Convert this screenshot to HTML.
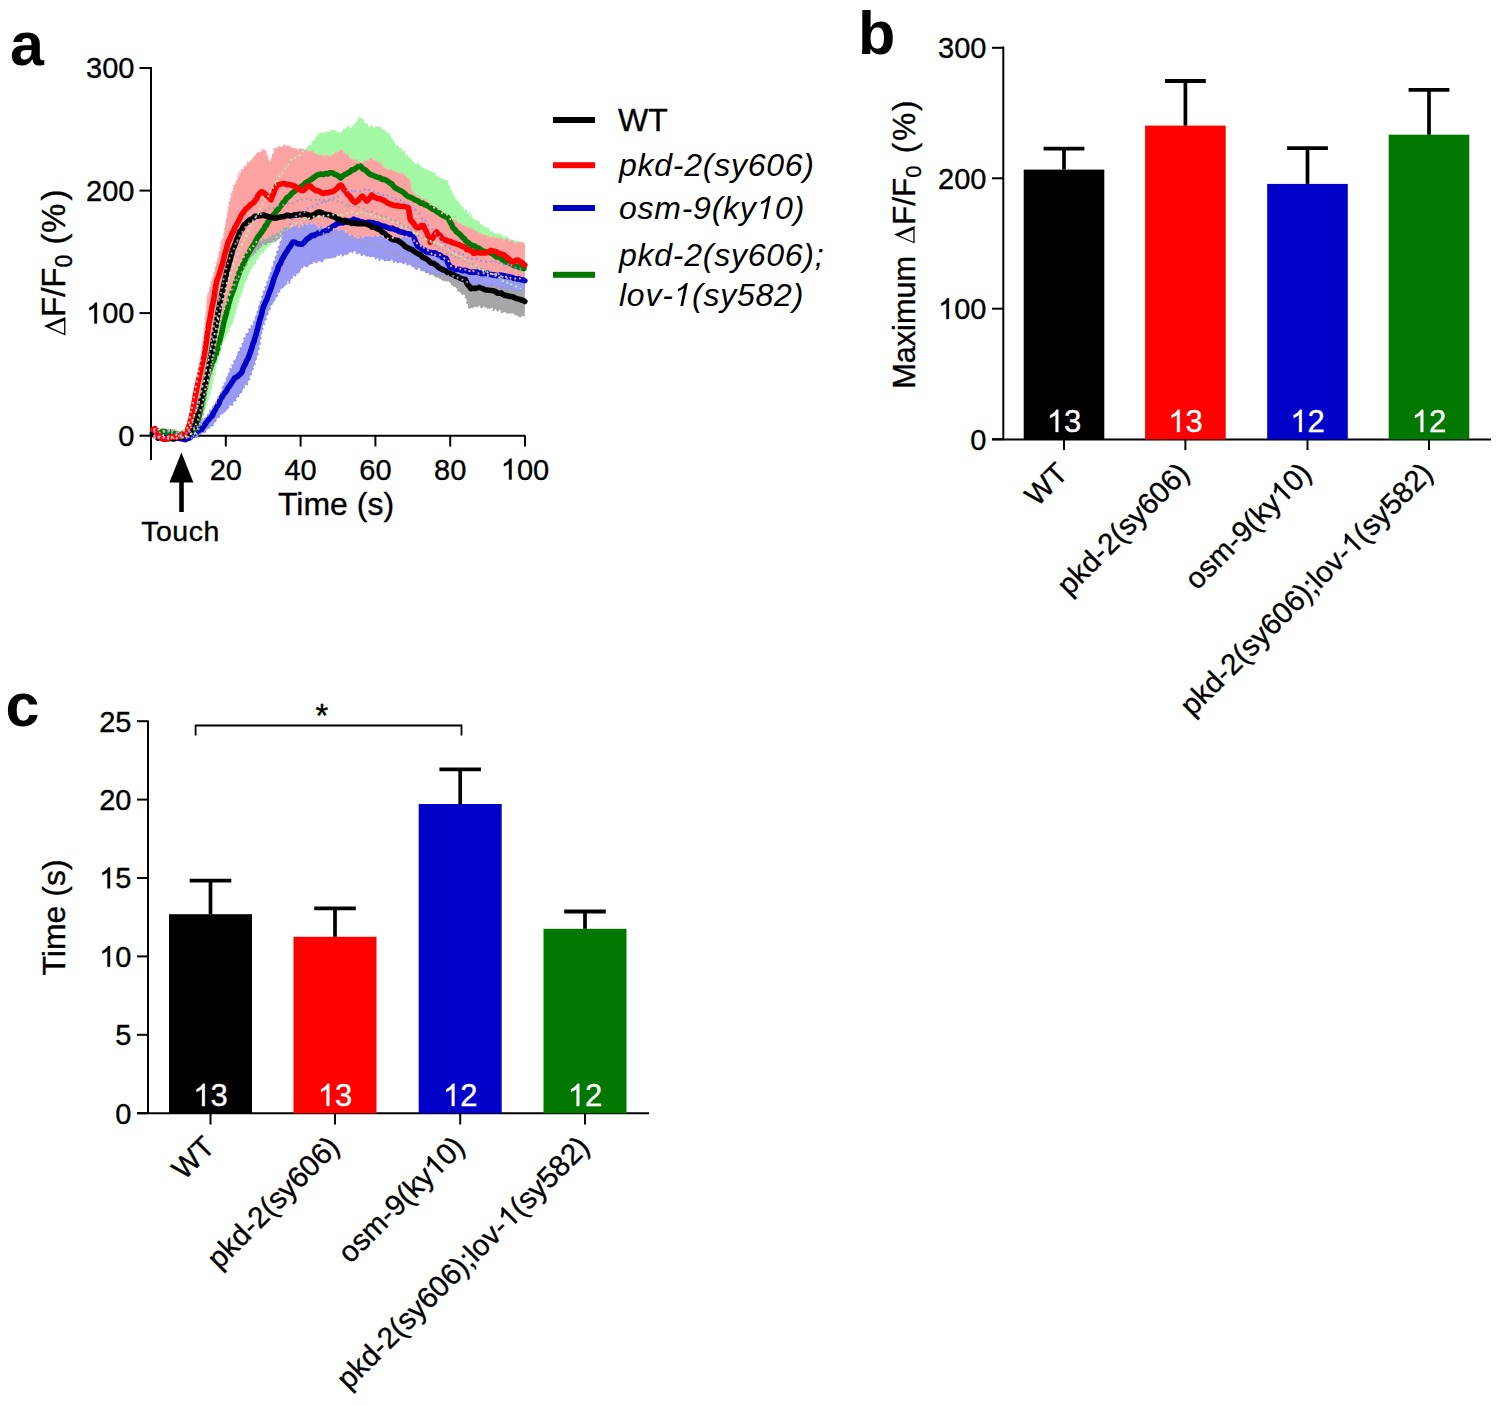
<!DOCTYPE html><html><head><meta charset="utf-8"><style>html,body{margin:0;padding:0;background:#fff;}svg{display:block;}text{font-family:"Liberation Sans",sans-serif;stroke:#000;stroke-width:0.35px;}text[fill="#fff"]{stroke:#fff;}text[font-weight="bold"],text[font-style="italic"]{stroke:none;}</style></head><body>
<svg width="1500" height="1406" viewBox="0 0 1500 1406">
<rect width="1500" height="1406" fill="#fff"/>
<text x="10" y="64.5" font-size="61" font-weight="bold">a</text>
<text x="858" y="53.5" font-size="61" font-weight="bold">b</text>
<text x="5.5" y="726" font-size="61" font-weight="bold">c</text>
<g stroke="#000" stroke-width="2" fill="none">
<line x1="151" y1="67" x2="151" y2="460"/>
<line x1="139.5" y1="435.7" x2="151" y2="435.7"/>
<line x1="139.5" y1="313.1" x2="151" y2="313.1"/>
<line x1="139.5" y1="190.6" x2="151" y2="190.6"/>
<line x1="139.5" y1="68.0" x2="151" y2="68.0"/>
<line x1="150" y1="435.7" x2="525.5" y2="435.7"/>
<line x1="225.8" y1="435.7" x2="225.8" y2="446.5"/>
<line x1="300.6" y1="435.7" x2="300.6" y2="446.5"/>
<line x1="375.4" y1="435.7" x2="375.4" y2="446.5"/>
<line x1="450.2" y1="435.7" x2="450.2" y2="446.5"/>
<line x1="525.0" y1="435.7" x2="525.0" y2="446.5"/>
</g>
<g>
<polygon points="152.0,430.0 153.6,429.0 155.3,431.1 156.9,430.9 158.5,429.5 160.2,430.2 161.8,430.1 163.5,430.7 165.1,431.2 166.7,429.3 168.4,429.1 170.0,431.4 171.6,430.4 173.3,431.3 174.9,429.2 176.5,430.5 178.2,431.3 179.8,430.0 181.5,432.1 183.1,432.0 184.7,429.6 186.4,429.6 188.0,431.1 188.7,430.6 189.3,427.5 190.0,425.5 190.7,424.4 191.3,421.8 192.0,420.7 192.7,419.7 193.3,418.3 194.0,416.0 194.7,414.4 195.3,412.8 196.0,411.9 196.4,409.8 196.8,407.5 197.2,408.1 197.6,405.8 198.0,404.4 198.4,401.5 198.8,402.2 199.2,400.2 199.6,396.5 200.0,395.5 200.4,395.0 200.8,393.4 201.2,392.4 201.6,389.4 202.0,388.9 202.4,386.9 202.8,384.2 203.2,383.4 203.6,382.7 204.0,381.0 204.4,378.4 204.7,377.1 205.1,373.9 205.5,372.9 205.8,372.9 206.2,370.2 206.5,367.9 206.9,367.4 207.3,366.3 207.6,364.6 208.0,362.1 208.4,360.7 208.7,359.3 209.1,358.5 209.5,356.2 209.8,354.2 210.2,352.9 210.5,350.0 210.9,348.5 211.3,348.8 211.6,347.9 212.0,345.3 212.4,343.1 212.7,340.9 213.1,340.2 213.5,340.0 213.8,337.8 214.2,335.6 214.5,334.9 214.9,331.5 215.3,330.7 215.6,330.4 216.0,327.7 216.4,325.8 216.7,323.7 217.1,322.9 217.5,322.4 217.8,318.2 218.2,318.7 218.5,317.3 218.9,315.9 219.3,313.9 219.6,312.5 220.0,310.1 220.4,308.6 220.8,306.6 221.3,304.0 221.7,304.7 222.1,302.3 222.5,299.7 222.9,299.0 223.4,297.3 223.8,295.4 224.2,293.8 224.6,292.7 225.1,291.4 225.5,289.8 225.9,287.8 226.3,285.0 226.7,284.0 227.2,282.3 227.6,281.8 228.0,281.0 228.6,279.3 229.1,277.7 229.7,276.2 230.3,273.0 230.9,273.1 231.4,271.1 232.0,267.8 232.6,266.1 233.1,264.5 233.7,265.0 234.3,262.0 234.9,260.0 235.4,259.9 236.0,257.6 236.7,255.3 237.4,254.0 238.1,253.5 238.8,250.9 239.5,249.7 240.2,249.4 240.8,247.1 241.5,245.2 242.2,244.1 242.9,241.3 243.6,240.8 244.3,239.3 245.0,237.1 245.8,235.4 246.5,236.0 247.3,233.4 248.1,231.0 248.8,230.6 249.6,229.7 250.4,225.9 251.2,224.3 251.9,223.2 252.7,223.2 253.5,220.1 254.2,220.1 255.0,218.5 255.9,216.7 256.7,214.3 257.6,214.9 258.5,213.0 259.3,210.7 260.2,208.4 261.1,208.1 261.9,206.0 262.8,205.0 263.7,202.8 264.5,202.2 265.4,199.2 266.3,198.4 267.1,198.8 268.0,197.1 268.9,194.0 269.7,194.1 270.6,191.2 271.4,191.5 272.3,189.5 273.1,187.2 274.0,185.3 274.9,183.2 275.7,184.2 276.6,180.4 277.4,181.2 278.3,180.2 279.1,177.6 280.0,175.1 281.0,175.7 282.0,174.6 283.0,172.5 284.0,170.6 285.0,168.8 286.0,167.4 287.0,165.6 288.0,165.6 289.0,163.5 290.0,161.5 291.0,159.9 292.4,160.4 293.8,158.3 295.2,157.8 296.6,156.3 297.9,156.8 299.3,155.8 300.7,152.3 302.1,151.8 303.5,151.1 304.9,151.9 305.9,150.0 307.0,147.6 308.0,146.0 309.1,146.0 310.1,145.2 311.1,144.2 312.2,141.3 313.2,141.6 314.2,139.8 315.3,138.0 316.3,138.2 317.4,134.8 318.4,134.9 320.1,132.6 321.8,132.4 323.5,134.0 325.1,131.5 326.8,132.5 328.5,131.6 330.2,131.8 331.9,129.9 333.5,130.2 335.1,130.4 336.8,132.3 338.4,132.0 340.0,133.3 341.5,132.3 343.0,129.5 344.5,129.9 346.0,127.9 347.5,127.1 349.0,126.6 350.5,128.2 352.0,127.3 353.2,126.0 354.5,123.3 355.8,122.7 357.0,121.8 358.5,118.9 360.0,117.7 361.3,118.2 362.7,119.3 364.0,121.3 365.5,124.2 367.0,124.4 368.5,126.6 370.0,126.4 371.7,126.0 373.3,127.6 375.0,127.9 376.7,125.8 378.3,127.8 380.0,126.4 381.3,127.3 382.7,130.4 384.0,129.0 385.3,130.4 386.7,133.5 388.0,132.8 388.9,133.3 389.9,134.8 390.8,136.4 391.7,139.2 392.6,138.8 393.5,142.4 394.5,142.3 395.4,145.3 396.6,146.3 397.7,145.8 398.9,146.8 400.1,148.6 401.3,148.8 402.4,151.5 403.6,151.0 404.8,152.1 405.9,156.0 407.1,155.2 408.3,157.2 409.5,158.0 410.6,158.8 411.8,159.3 413.3,162.5 414.7,163.6 416.2,164.5 417.7,163.0 419.2,164.2 420.6,166.2 422.1,168.1 423.6,167.7 425.1,169.0 426.5,169.9 428.0,169.6 429.4,171.2 430.8,171.4 432.2,172.1 433.6,172.4 435.0,173.8 436.4,176.6 437.9,175.9 439.3,177.3 440.7,178.1 442.1,179.7 443.5,179.0 444.9,179.6 446.3,180.5 447.7,181.3 448.4,184.4 449.0,186.1 449.7,186.1 450.3,187.8 451.0,190.0 451.7,191.7 452.3,193.4 453.0,194.0 453.6,195.0 454.3,197.3 455.4,198.1 456.6,200.7 457.7,200.6 458.8,201.9 460.0,204.7 461.1,205.0 462.2,207.7 463.3,208.1 464.5,210.4 465.6,209.7 466.7,212.0 467.9,214.1 469.0,213.3 470.3,216.8 471.5,215.6 472.8,218.3 474.0,219.9 475.3,220.4 476.6,220.0 477.8,220.5 479.1,222.6 480.4,224.7 481.6,224.0 482.9,226.7 484.1,225.6 485.4,228.7 486.9,227.0 488.4,228.6 489.8,230.9 491.3,231.4 492.8,232.4 494.3,233.0 495.8,233.4 497.3,234.0 498.7,233.3 500.2,234.8 501.7,234.7 503.2,236.9 504.8,237.3 506.3,236.7 507.9,236.7 509.4,239.8 510.9,239.9 512.5,239.7 514.0,240.2 515.6,241.7 517.1,241.1 518.6,241.5 520.2,241.9 521.7,242.2 523.3,242.1 524.8,244.0 524.8,290.0 523.3,290.5 521.8,289.4 520.3,288.7 518.8,288.6 517.3,286.7 515.8,286.6 514.3,286.3 512.9,285.7 511.4,284.8 509.9,282.1 508.4,281.7 506.9,282.9 505.4,282.2 503.9,280.5 502.4,281.1 500.9,279.4 499.4,277.5 497.9,278.7 496.4,276.2 494.9,275.4 493.4,275.8 491.9,274.3 490.5,273.9 489.0,275.2 487.5,272.3 486.0,273.0 484.5,272.4 483.0,270.7 481.5,271.2 480.0,268.6 478.6,269.7 477.3,268.3 475.9,266.0 474.5,267.4 473.2,265.2 471.8,265.7 470.5,263.6 469.1,262.8 467.7,262.5 466.4,260.6 465.0,259.4 463.6,259.6 462.3,258.8 460.9,258.6 459.5,255.7 458.2,256.1 456.8,255.4 455.5,254.2 454.1,251.8 452.7,253.0 451.4,251.8 450.0,251.4 448.5,248.2 447.0,247.1 445.5,246.5 444.0,245.7 442.5,247.5 441.0,244.2 439.5,245.7 438.0,243.6 436.5,243.7 435.0,241.4 433.5,242.2 432.0,239.8 430.5,241.2 429.0,240.8 427.5,239.1 426.0,239.2 424.5,238.1 423.0,236.1 421.5,236.3 420.0,235.4 418.5,234.7 417.0,233.8 415.5,231.7 414.0,233.1 412.5,229.9 411.0,230.6 409.5,229.0 408.0,229.8 406.5,227.4 405.0,228.2 403.5,227.5 402.0,227.1 400.5,226.4 399.0,224.3 397.5,222.8 396.0,222.0 394.5,221.4 393.0,221.4 391.5,221.9 390.0,219.5 388.4,218.3 386.8,218.7 385.3,220.0 383.7,219.0 382.1,219.1 380.5,218.5 378.9,216.1 377.4,216.8 375.8,215.9 374.2,216.4 372.6,214.6 371.1,214.4 369.5,215.9 367.9,214.2 366.3,213.1 364.7,212.0 363.2,211.8 361.6,212.1 360.0,213.4 358.3,212.5 356.7,213.7 355.0,213.1 353.3,213.0 351.7,211.5 350.0,211.9 348.3,212.1 346.7,213.3 345.0,213.7 343.3,214.8 341.7,215.0 340.0,213.5 338.3,215.4 336.7,214.6 335.0,213.7 333.3,214.7 331.7,216.0 330.0,215.6 328.3,215.3 326.7,214.6 325.0,214.5 323.3,215.9 321.7,217.4 320.0,217.0 318.3,217.0 316.7,217.6 315.0,216.3 313.3,216.6 311.7,217.0 310.0,216.9 308.5,219.4 306.9,218.4 305.4,219.1 303.8,219.8 302.3,220.8 300.8,222.3 299.2,221.3 297.7,223.6 296.2,223.1 294.6,225.0 293.1,226.1 291.5,225.9 290.0,226.4 288.7,226.5 287.3,228.8 286.0,228.2 284.7,231.5 283.4,232.3 282.0,231.8 280.7,234.2 279.4,234.4 278.1,236.0 276.7,237.0 275.4,237.2 274.0,241.0 272.5,242.6 271.1,242.6 270.0,244.7 269.0,246.4 267.9,246.9 266.9,246.9 265.8,249.2 264.7,249.8 263.7,251.8 262.6,253.8 261.6,252.3 260.5,253.5 259.6,255.6 258.7,257.4 257.8,258.7 256.9,259.5 256.0,262.2 255.2,263.4 254.3,263.8 253.4,265.8 252.5,266.0 251.6,268.5 250.7,270.2 249.8,270.7 249.2,273.1 248.7,274.6 248.1,276.1 247.5,277.0 247.0,278.2 246.4,279.7 245.9,280.5 245.3,282.1 244.7,283.4 244.2,285.3 243.6,286.4 243.0,288.8 242.5,291.7 241.9,292.6 241.4,293.0 240.8,296.3 240.2,296.1 239.7,298.2 239.1,299.7 238.6,301.6 238.2,302.2 237.7,303.7 237.2,306.9 236.8,307.8 236.3,309.1 235.8,311.8 235.4,312.8 234.9,312.6 234.5,316.7 234.0,317.6 233.5,317.7 233.1,319.9 232.6,323.1 231.9,324.9 231.2,324.0 230.5,325.8 229.8,327.4 229.1,330.9 228.4,330.1 227.7,333.6 226.9,333.6 226.2,334.6 225.5,336.9 224.8,339.4 224.1,340.5 223.4,340.7 222.7,343.0 222.0,346.1 221.5,347.8 221.1,347.1 220.6,350.7 220.2,351.0 219.7,353.8 219.3,354.9 218.8,356.6 218.4,356.5 217.9,357.9 217.5,361.3 217.0,362.9 216.6,364.5 216.2,366.1 215.9,366.2 215.5,369.9 215.1,371.8 214.8,373.7 214.4,373.8 214.0,374.7 213.6,376.6 213.2,378.1 212.9,381.8 212.5,383.5 212.1,385.8 211.8,386.0 211.4,389.3 211.0,390.0 210.6,391.6 210.1,393.8 209.7,394.6 209.2,397.3 208.8,398.9 208.3,399.0 207.9,400.5 207.4,402.4 207.0,403.7 206.4,405.7 205.9,408.5 205.3,408.6 204.8,412.2 204.2,412.0 203.7,414.6 203.1,416.8 202.6,418.2 202.0,418.6 201.2,422.0 200.5,422.7 199.8,424.3 199.0,425.7 198.2,427.2 197.5,430.1 196.8,431.0 196.0,432.5 194.4,433.7 192.8,432.5 191.2,433.9 189.6,435.0 188.0,435.2 186.4,435.7 184.7,436.4 183.1,435.5 181.5,435.9 179.8,435.6 178.2,436.8 176.5,434.8 174.9,435.1 173.3,434.8 171.6,437.3 170.0,435.2 168.4,436.5 166.7,435.4 165.1,435.2 163.5,435.2 161.8,436.5 160.2,435.9 158.5,437.2 156.9,437.3 155.3,435.1 153.6,436.2 152.0,436.0" fill="#a3f9a3"/>
<polygon points="152.0,430.0 153.7,431.3 155.3,431.3 157.0,428.9 158.6,429.0 160.3,431.2 161.9,430.9 163.6,430.8 165.2,429.8 166.9,430.7 168.5,430.7 170.2,430.7 171.8,429.6 173.5,430.4 175.1,430.3 176.8,431.3 178.4,432.1 180.1,432.0 181.7,430.9 183.4,430.7 185.0,430.2 186.7,429.6 188.3,429.6 190.0,430.9 190.5,429.0 190.9,427.6 191.4,427.5 191.9,425.0 192.4,423.5 192.8,421.1 193.3,419.0 193.8,418.3 194.2,416.2 194.7,415.7 195.2,415.6 195.6,413.1 196.1,410.2 196.6,410.7 197.1,408.9 197.5,407.2 198.0,406.1 198.3,404.1 198.6,402.6 199.0,399.8 199.3,399.9 199.6,398.3 199.9,394.5 200.2,394.5 200.6,392.8 200.9,390.5 201.2,389.1 201.5,387.4 201.8,387.0 202.2,384.2 202.5,383.5 202.8,380.6 203.1,380.5 203.4,378.9 203.8,376.1 204.1,374.8 204.4,374.2 204.7,372.0 205.0,369.8 205.4,367.4 205.7,366.1 206.0,365.6 206.3,362.5 206.6,362.9 207.0,359.6 207.3,359.8 207.6,356.5 207.9,356.7 208.2,354.4 208.6,352.2 208.9,350.6 209.2,349.4 209.5,347.6 209.8,345.3 210.2,343.4 210.5,342.6 210.8,342.2 211.1,339.7 211.4,336.6 211.8,337.1 212.1,335.2 212.4,334.1 212.7,330.5 213.0,330.5 213.4,327.0 213.7,327.0 214.0,324.4 214.3,322.7 214.6,322.9 214.9,319.2 215.3,318.7 215.6,318.1 215.9,314.8 216.2,313.1 216.5,313.4 216.8,310.6 217.2,309.8 217.5,306.3 217.8,305.7 218.1,303.6 218.4,303.4 218.7,300.1 219.1,301.0 219.4,296.8 219.7,297.2 220.0,293.7 220.4,292.7 220.8,292.7 221.1,289.3 221.5,287.8 221.9,287.7 222.3,285.3 222.7,282.7 223.0,283.8 223.4,279.9 223.8,278.0 224.2,277.3 224.6,276.5 225.0,275.3 225.3,271.9 225.7,271.0 226.1,268.5 226.5,268.1 226.9,267.5 227.2,265.8 227.6,264.7 228.0,262.7 228.6,261.5 229.2,259.6 229.9,257.4 230.5,255.2 231.1,255.0 231.8,252.5 232.4,250.4 233.0,249.9 233.6,249.5 234.2,246.0 234.9,245.7 235.5,243.7 236.1,242.5 236.8,240.0 237.4,240.8 238.0,237.3 239.0,237.0 240.0,235.1 241.0,232.7 242.0,232.8 243.0,230.3 244.0,228.8 245.0,227.4 246.0,226.4 247.0,224.9 248.0,225.0 249.0,223.4 250.0,223.4 251.2,222.2 252.5,221.4 253.8,218.3 255.0,217.8 256.2,216.3 257.5,216.3 258.8,215.3 260.0,214.8 261.2,213.6 262.5,211.3 263.8,210.8 265.0,210.1 266.6,208.2 268.2,207.8 269.8,208.4 271.4,207.1 273.0,208.4 274.5,206.5 276.1,205.7 277.7,205.5 279.3,205.2 280.9,204.7 282.5,205.1 284.1,204.4 285.7,203.6 287.3,204.0 288.9,202.4 290.5,203.9 292.0,203.6 293.6,202.5 295.2,201.2 296.8,200.9 298.4,200.7 300.0,198.7 301.7,199.8 303.3,200.1 305.0,199.1 306.7,198.9 308.3,200.8 310.0,199.6 311.7,200.1 313.3,201.2 315.0,200.3 316.7,199.4 318.3,201.4 320.0,199.6 321.7,198.7 323.3,200.5 325.0,198.9 326.7,199.5 328.3,201.0 330.0,200.5 331.6,199.1 333.2,200.7 334.7,201.0 336.3,201.6 337.9,201.3 339.5,202.8 341.1,201.8 342.6,202.8 344.2,203.4 345.8,205.4 347.4,203.4 348.9,205.8 350.5,204.6 352.1,206.1 353.7,206.0 355.3,206.6 356.8,207.9 358.4,207.3 360.0,206.9 361.6,207.5 363.2,207.9 364.7,210.6 366.3,210.5 367.9,211.9 369.5,211.7 371.1,210.4 372.6,212.7 374.2,213.5 375.8,213.9 377.4,213.8 378.9,213.9 380.5,214.7 382.1,216.2 383.7,215.2 385.3,216.5 386.8,216.9 388.4,218.7 390.0,218.9 391.4,220.0 392.9,220.6 394.3,219.9 395.7,220.5 397.1,222.0 398.6,222.2 400.0,223.5 401.4,225.0 402.9,226.5 404.3,226.3 405.7,227.8 407.1,226.6 408.6,228.1 410.0,230.7 411.4,229.2 412.9,230.7 414.3,230.5 415.7,231.4 417.1,234.5 418.6,235.6 420.0,235.4 421.4,234.9 422.7,236.2 424.1,237.0 425.5,239.1 426.8,240.1 428.2,240.3 429.5,241.4 430.9,241.2 432.3,243.3 433.6,245.4 435.0,245.7 436.4,244.8 437.7,246.9 439.1,248.3 440.5,248.0 441.8,250.7 443.2,250.3 444.5,251.9 445.9,252.0 447.3,254.6 448.6,254.9 450.0,255.2 451.5,254.7 453.0,256.1 454.5,255.6 456.0,257.9 457.5,259.3 459.0,258.0 460.5,259.6 462.0,260.2 463.5,260.6 465.0,262.1 466.5,263.4 468.0,263.4 469.5,263.4 471.0,265.4 472.5,264.3 474.0,266.1 475.5,266.5 477.0,267.4 478.5,268.3 480.0,267.2 481.5,268.9 483.1,268.9 484.6,270.2 486.2,271.7 487.7,271.3 489.3,270.1 490.8,272.0 492.4,273.3 493.9,274.3 495.4,274.3 497.0,275.3 498.5,273.7 500.1,276.9 501.6,276.8 503.2,277.1 504.7,278.5 506.3,279.0 507.8,277.4 509.4,280.0 510.9,280.5 512.4,279.5 514.0,281.6 515.5,281.7 517.1,281.2 518.6,283.5 520.2,282.2 521.7,284.1 523.3,284.2 524.8,285.0 524.8,317.0 523.1,315.6 521.3,316.1 519.6,316.5 517.9,316.4 516.2,314.3 514.4,314.8 512.7,312.9 511.1,312.4 509.5,314.1 508.0,313.1 506.4,312.3 504.8,312.3 503.2,312.4 501.6,312.2 500.0,309.6 498.5,310.2 496.9,310.8 495.3,308.8 493.7,309.9 492.2,307.7 490.6,307.9 489.0,307.8 487.4,309.0 485.9,307.0 484.3,306.1 482.7,308.1 481.1,307.1 479.6,305.4 478.0,306.7 476.3,306.1 474.5,307.6 472.8,306.8 471.0,308.3 469.3,308.9 468.8,306.8 468.3,305.8 467.9,303.9 467.4,304.2 466.9,302.0 466.4,299.4 466.0,298.1 465.5,297.1 465.0,295.7 463.8,293.9 462.5,294.0 461.2,293.4 460.0,292.2 458.8,291.4 457.5,288.8 456.2,288.2 455.0,285.8 453.8,286.9 452.5,285.3 451.2,283.4 450.0,283.0 448.4,280.9 446.9,280.6 445.3,281.8 443.7,279.7 442.1,280.7 440.6,278.4 439.0,277.1 437.5,277.9 436.1,276.8 434.6,275.7 433.2,275.8 431.7,273.7 430.2,272.8 428.8,273.3 427.3,272.9 425.8,272.1 424.4,269.9 422.9,269.5 421.5,267.6 420.0,268.8 418.6,265.9 417.1,266.6 415.7,264.9 414.3,263.2 412.9,262.9 411.4,262.5 410.0,260.3 408.6,260.0 407.1,259.5 405.7,258.8 404.3,256.4 402.9,257.7 401.4,255.6 400.0,254.1 398.5,254.7 396.9,253.1 395.4,253.9 393.8,253.9 392.3,251.9 390.8,252.9 389.2,252.3 387.7,250.9 386.2,250.7 384.6,250.1 383.1,249.2 381.5,247.3 380.0,246.6 378.5,245.6 376.9,245.5 375.4,247.0 373.8,245.9 372.3,244.0 370.8,245.1 369.2,244.5 367.7,243.9 366.2,241.1 364.6,241.1 363.1,241.5 361.5,241.5 360.0,241.2 358.4,240.2 356.8,240.2 355.2,239.7 353.6,239.6 352.0,237.9 350.4,237.3 348.8,239.1 347.2,238.3 345.6,236.8 344.0,236.7 342.4,236.3 340.8,235.9 339.2,236.8 337.6,235.4 336.0,234.0 334.4,236.2 332.8,234.6 331.2,235.6 329.6,234.9 328.0,235.0 326.4,233.1 324.8,231.6 323.2,234.0 321.6,232.8 320.0,230.8 318.3,230.5 316.7,231.9 315.0,231.0 313.3,230.2 311.7,230.9 310.0,228.9 308.3,228.8 306.7,229.3 305.0,228.3 303.3,230.0 301.7,227.9 300.0,227.9 298.4,227.8 296.8,227.5 295.1,229.8 293.5,228.2 291.9,230.6 290.2,228.6 288.6,228.5 287.0,229.0 285.8,230.5 284.7,233.1 283.5,234.7 282.3,234.2 281.2,237.2 280.0,236.8 278.4,238.9 276.8,240.9 275.2,241.0 273.6,242.3 272.0,243.1 270.3,241.9 268.7,242.9 267.0,243.8 265.3,244.2 263.7,244.5 262.0,243.7 260.8,247.5 259.5,248.2 258.2,249.5 257.0,248.8 255.8,252.5 254.5,252.5 253.2,254.9 252.0,255.2 251.1,255.8 250.3,258.1 249.4,257.9 248.6,259.7 247.7,261.4 246.9,263.4 246.0,266.2 245.1,265.4 244.3,267.4 243.4,270.6 242.6,271.8 241.7,272.1 240.9,273.9 240.0,274.9 239.2,275.5 238.4,279.2 237.5,278.5 236.7,279.7 235.9,283.4 235.1,284.5 234.2,286.1 233.4,286.1 232.6,289.2 231.8,289.6 230.9,291.6 230.1,293.9 229.3,294.7 228.5,296.8 227.6,297.6 226.8,298.9 226.0,299.2 225.6,301.0 225.2,301.8 224.8,304.7 224.4,307.5 224.0,309.2 223.6,310.4 223.2,310.7 222.8,313.4 222.4,313.3 222.1,314.6 221.7,316.6 221.3,319.3 220.9,321.5 220.5,322.0 220.1,324.6 219.7,326.1 219.3,326.7 218.9,327.6 218.5,330.7 218.2,331.0 217.9,332.3 217.6,334.1 217.3,336.1 217.0,338.6 216.7,339.0 216.4,340.9 216.1,341.7 215.8,343.3 215.5,344.9 215.2,347.2 215.0,347.9 214.7,349.9 214.4,352.2 214.1,352.9 213.8,355.2 213.5,356.3 213.2,359.1 212.9,360.1 212.6,361.0 212.3,364.6 212.0,365.5 211.7,365.9 211.4,367.8 211.1,370.8 210.7,372.3 210.4,371.7 210.1,373.6 209.8,377.3 209.5,378.9 209.2,378.9 208.8,380.9 208.5,383.7 208.2,384.0 207.9,385.9 207.6,388.3 207.3,389.0 206.9,390.9 206.6,391.5 206.3,393.9 206.0,396.0 205.7,396.9 205.5,398.0 205.2,401.0 204.9,401.2 204.7,403.3 204.4,405.4 204.2,407.1 203.9,408.1 203.6,409.0 203.4,411.0 203.1,412.2 202.8,414.3 202.6,415.8 202.3,416.3 202.1,417.8 201.8,421.4 201.5,421.6 201.3,423.2 201.0,425.7 200.2,426.5 199.5,428.5 198.8,429.0 198.0,429.9 197.2,431.8 196.5,434.5 195.8,435.9 195.0,437.3 193.3,436.0 191.7,437.1 190.0,436.2 188.4,437.0 186.7,436.8 185.1,437.3 183.4,437.5 181.8,437.9 180.1,436.0 178.5,436.2 176.8,436.7 175.2,437.7 173.5,438.1 171.8,437.1 170.2,437.3 168.5,437.1 166.9,435.7 165.2,437.2 163.6,437.3 161.9,436.7 160.3,437.3 158.6,437.6 157.0,436.1 155.3,437.3 153.7,436.0 152.0,437.0" fill="#a6a6a8"/>
<polygon points="152.0,432.0 153.6,431.3 155.2,432.2 156.9,431.8 158.5,432.5 160.1,432.6 161.7,431.1 163.3,431.0 165.0,433.3 166.6,431.8 168.2,431.7 169.8,433.9 171.4,432.5 173.0,433.6 174.7,432.6 176.3,433.1 177.9,431.8 179.5,433.2 181.1,433.9 182.8,433.0 184.4,433.6 186.0,433.5 187.7,430.9 189.3,432.1 191.0,430.8 192.7,429.1 194.3,427.5 196.0,429.0 197.2,426.6 198.3,425.9 199.5,425.1 200.7,423.3 201.8,422.5 203.0,419.7 204.2,419.4 205.4,417.0 206.6,417.0 207.8,415.5 209.0,411.9 210.0,410.6 211.0,409.4 212.0,410.0 213.0,407.1 214.0,406.2 215.0,403.9 216.0,403.0 216.7,401.1 217.3,399.4 218.0,398.5 218.6,396.9 219.3,396.2 220.0,394.0 220.6,393.2 221.3,391.4 222.0,390.2 222.6,387.7 223.3,384.7 223.9,385.1 224.6,383.8 225.3,382.1 226.0,379.6 226.7,378.5 227.4,375.6 228.2,375.8 228.9,373.5 229.6,371.2 230.3,369.0 231.0,369.7 231.7,368.6 232.4,364.5 233.2,365.0 233.9,362.3 234.6,360.1 235.3,359.0 236.0,358.8 236.7,357.5 237.4,353.6 238.1,353.7 238.8,350.6 239.5,350.9 240.2,348.3 240.8,348.3 241.5,347.0 242.2,344.2 242.9,344.0 243.6,340.5 244.3,338.4 245.0,338.3 245.8,335.2 246.6,334.2 247.4,333.4 248.2,332.5 249.0,329.8 249.9,328.0 250.7,328.8 251.5,325.8 252.3,326.2 253.1,324.6 253.9,321.7 254.4,320.3 254.9,318.9 255.5,317.6 256.0,315.9 256.5,314.2 257.0,312.7 257.6,312.0 258.1,309.2 258.6,307.4 259.1,306.6 259.6,303.7 260.2,302.2 260.7,302.5 261.2,299.7 261.8,298.2 262.3,295.1 262.9,294.6 263.4,293.5 263.9,290.3 264.5,290.4 265.1,288.9 265.6,285.7 266.1,285.7 266.7,283.7 267.2,282.7 267.8,280.2 268.4,279.6 268.9,278.1 269.5,274.5 270.0,273.0 270.6,273.2 271.1,272.4 271.6,268.8 272.1,267.8 272.7,266.6 273.2,264.3 273.7,262.8 274.2,261.1 274.7,259.7 275.2,258.7 275.8,256.3 276.3,255.0 276.8,254.5 277.3,250.8 277.8,250.8 278.3,249.7 278.8,246.9 279.4,245.1 279.9,245.1 280.4,242.0 281.0,240.2 281.6,239.3 282.2,238.5 282.9,235.2 283.5,234.2 284.1,232.6 284.7,232.4 285.3,229.7 286.3,229.5 287.2,226.1 288.2,225.2 289.1,224.7 290.1,223.9 291.0,221.3 292.0,219.2 293.4,218.0 294.8,218.2 296.2,216.3 297.6,217.1 299.0,216.3 300.4,213.5 301.8,212.9 303.2,213.4 304.6,212.0 306.0,211.6 307.4,209.4 308.8,207.8 310.2,207.3 311.6,207.8 313.2,205.7 314.7,205.2 316.3,204.7 317.8,204.0 319.4,203.3 321.0,204.0 322.5,201.2 324.1,200.1 325.7,202.0 327.2,201.1 328.8,200.7 330.3,198.5 331.9,199.3 333.4,198.6 335.0,196.0 336.5,196.8 338.1,196.5 339.6,195.4 341.2,194.4 342.7,193.1 344.3,192.6 345.8,191.7 347.4,190.6 348.9,191.5 350.5,190.0 352.0,190.9 353.7,188.8 355.3,191.3 357.0,190.8 358.7,191.5 360.3,191.5 362.0,191.6 363.7,190.8 365.3,189.3 367.0,191.4 368.7,189.9 370.3,190.4 372.0,191.5 373.5,191.5 375.1,191.7 376.6,193.6 378.2,193.2 379.7,192.9 381.2,193.1 382.8,195.2 384.3,194.6 385.8,195.9 387.4,195.2 388.9,195.2 390.5,196.6 392.0,197.9 393.6,196.7 395.2,199.1 396.9,200.1 398.5,200.4 400.1,201.0 401.8,199.4 403.4,201.7 405.0,203.0 406.2,201.8 407.5,203.5 408.8,204.6 410.0,206.4 411.2,207.2 412.5,208.4 413.8,210.4 415.0,209.3 416.2,210.5 417.5,211.8 418.8,212.9 420.0,213.8 421.1,217.6 422.2,218.6 423.2,217.8 424.3,220.2 425.4,221.0 426.5,222.3 427.5,223.7 428.6,225.9 429.7,227.0 430.8,227.7 431.8,228.5 432.9,230.2 434.0,230.9 435.1,233.4 436.2,235.1 437.2,235.4 438.3,235.8 439.4,237.3 440.5,239.1 441.6,241.0 442.7,242.8 443.8,242.9 444.8,245.3 445.9,246.1 447.0,246.8 448.5,247.4 450.0,248.5 451.5,249.8 453.0,249.8 454.5,251.3 456.0,251.4 457.5,251.5 459.0,253.1 460.5,254.3 462.0,253.3 463.5,255.0 465.0,255.8 466.7,257.5 468.3,258.1 470.0,256.9 471.7,258.8 473.3,258.9 475.0,257.8 476.7,258.8 478.3,258.3 480.0,260.6 481.7,260.6 483.3,261.7 485.0,261.8 486.7,261.8 488.3,262.3 490.0,262.2 491.7,261.2 493.3,262.9 495.0,261.6 496.7,262.3 498.3,264.4 500.0,262.7 501.7,263.2 503.3,263.5 505.0,266.1 506.6,264.4 508.3,264.3 509.9,267.0 511.6,265.3 513.2,267.6 514.9,267.5 516.5,268.3 518.2,268.9 519.8,268.2 521.5,269.2 523.1,267.4 524.8,269.0 524.8,292.0 523.2,291.7 521.6,290.2 520.0,290.3 518.4,289.8 516.8,291.3 515.2,290.5 513.6,291.0 512.0,288.6 510.4,287.6 508.8,289.3 507.2,289.7 505.6,289.2 504.0,288.5 502.3,287.0 500.5,286.8 498.8,286.1 497.1,286.2 495.4,286.2 493.6,285.5 491.9,285.1 490.2,285.1 488.4,286.2 486.7,285.8 485.1,286.2 483.5,285.5 482.0,284.8 480.4,283.6 478.8,283.6 477.2,284.6 475.6,284.1 474.0,284.7 472.5,283.7 470.9,282.1 469.3,282.7 467.7,282.5 466.2,281.6 464.6,281.3 463.0,279.7 461.4,279.4 459.9,277.9 458.3,277.4 456.7,278.2 455.1,277.9 453.6,276.0 452.0,276.5 450.4,275.6 448.8,275.7 447.2,276.0 445.6,274.0 444.0,274.1 442.4,273.7 440.8,275.6 439.2,273.6 437.6,273.2 436.0,274.3 434.4,273.0 432.8,274.4 431.2,274.0 429.6,274.2 428.0,272.3 426.4,271.0 424.8,271.4 423.1,271.3 421.5,270.4 419.9,268.6 418.3,268.0 416.7,269.1 415.0,269.1 413.4,266.7 411.8,265.7 410.3,265.0 408.8,264.3 407.2,264.7 405.7,262.7 404.0,263.5 402.3,262.7 400.5,262.8 398.8,262.1 397.1,263.0 395.4,261.3 393.8,261.9 392.1,260.0 390.5,259.4 388.9,260.9 387.3,260.8 385.6,260.9 384.0,259.8 382.4,259.8 380.9,259.0 379.3,260.0 377.7,257.9 376.1,258.6 374.6,256.7 373.0,257.2 371.4,256.0 369.8,257.3 368.3,256.0 366.7,255.7 365.1,255.5 363.4,254.5 361.8,255.2 360.2,253.9 358.6,253.0 356.9,253.4 355.3,251.3 353.7,251.1 352.1,252.0 350.4,252.3 348.8,252.7 347.2,253.9 345.6,255.3 343.9,254.5 342.3,255.7 340.7,254.0 339.1,255.1 337.5,254.8 336.0,257.2 334.4,256.8 332.8,258.5 331.2,257.1 329.6,258.6 328.0,258.8 326.5,258.3 324.9,258.2 323.3,260.9 321.7,261.5 320.1,261.3 318.5,261.2 316.8,262.0 315.2,262.5 313.6,261.7 312.0,262.9 310.5,264.0 309.1,265.2 307.6,266.1 306.1,266.8 304.6,266.6 303.2,266.8 301.7,267.6 300.6,270.3 299.4,271.3 298.3,272.6 297.2,274.0 296.0,274.2 294.9,276.5 293.8,275.2 292.7,276.6 291.5,279.0 290.4,280.8 289.2,282.6 287.9,281.0 286.7,282.8 285.5,285.7 284.2,286.3 283.0,286.9 281.9,287.8 280.8,289.5 279.8,290.2 278.7,293.0 277.6,293.1 276.5,297.2 275.7,298.5 274.9,299.1 274.1,301.0 273.2,303.1 272.4,304.3 271.6,304.0 270.8,306.3 270.0,308.8 269.4,309.0 268.8,311.3 268.2,312.2 267.7,314.1 267.1,314.8 266.5,316.5 265.9,319.2 265.3,320.6 264.8,320.9 264.2,324.0 263.6,323.9 263.0,325.8 262.7,326.7 262.4,329.6 262.1,331.9 261.8,331.1 261.5,332.8 261.2,336.0 260.9,336.7 260.6,338.4 260.3,340.9 260.0,343.2 259.7,344.6 259.4,345.5 259.1,345.5 258.8,349.3 258.5,349.6 258.1,350.7 257.6,354.4 257.1,354.3 256.7,357.7 256.2,358.1 255.8,360.6 255.3,361.7 254.9,362.3 254.4,364.9 254.0,366.2 253.4,367.1 252.8,369.1 252.2,370.5 251.6,372.8 251.0,374.2 250.4,375.3 249.8,376.4 249.2,379.1 248.6,380.6 248.0,382.1 247.1,384.4 246.2,385.1 245.2,384.7 244.3,387.2 243.4,387.4 242.5,390.7 241.6,391.2 240.7,393.6 239.8,393.7 238.8,395.6 237.9,396.8 237.0,397.4 235.9,399.8 234.8,401.3 233.6,401.9 232.5,404.4 231.4,405.6 230.2,405.5 229.1,405.6 228.0,408.6 226.9,410.1 225.8,409.4 224.6,412.9 223.5,411.9 222.2,413.5 221.0,415.1 219.8,415.5 218.5,417.6 217.2,418.3 216.0,420.6 215.0,421.4 214.0,423.8 213.0,425.1 212.0,426.7 211.0,425.9 210.0,427.4 208.5,428.3 207.0,429.9 205.5,431.3 204.0,433.2 202.4,433.2 200.8,433.6 199.2,434.3 197.6,436.9 196.0,437.2 194.3,438.1 192.7,437.4 191.0,438.6 189.3,439.0 187.7,438.4 186.0,438.1 184.4,439.0 182.8,437.8 181.1,437.6 179.5,437.8 177.9,437.2 176.3,439.3 174.7,437.6 173.0,437.1 171.4,437.1 169.8,439.1 168.2,439.0 166.6,437.5 165.0,436.7 163.3,438.0 161.7,436.4 160.1,436.7 158.5,438.0 156.9,437.9 155.2,437.1 153.6,438.4 152.0,437.0" fill="#9a9af5"/>
<polygon points="152.0,430.0 153.6,429.3 155.2,429.0 156.9,429.9 158.5,429.2 160.1,429.0 161.7,430.0 163.3,431.5 165.0,431.2 166.6,431.2 168.2,429.7 169.8,430.6 171.4,429.9 173.0,429.7 174.7,429.6 176.3,429.9 177.9,432.0 179.5,431.7 181.1,431.7 182.8,431.7 184.4,430.1 186.0,430.5 186.6,429.6 187.2,428.0 187.8,426.6 188.4,424.9 189.0,420.8 189.4,420.5 189.8,419.0 190.1,416.8 190.5,414.1 190.9,413.2 191.2,410.4 191.6,411.0 192.0,409.0 192.3,406.5 192.6,404.2 192.9,404.3 193.2,401.8 193.5,401.1 193.8,399.4 194.1,396.8 194.4,395.0 194.7,393.9 195.0,391.8 195.3,389.5 195.6,388.3 195.9,388.1 196.2,384.4 196.5,382.8 196.8,382.8 197.1,380.3 197.4,379.4 197.6,377.6 197.9,375.7 198.2,375.9 198.5,372.1 198.8,371.1 199.1,368.9 199.4,368.5 199.7,366.0 200.0,364.6 200.2,364.1 200.4,361.3 200.6,360.4 200.8,359.7 201.0,355.9 201.2,354.2 201.4,353.0 201.6,352.9 201.8,350.9 202.0,348.3 202.2,346.9 202.4,344.9 202.6,344.1 202.8,341.3 203.0,341.6 203.2,340.5 203.4,339.1 203.6,336.9 203.8,335.9 204.0,331.7 204.2,330.8 204.4,331.1 204.6,329.0 204.8,326.3 205.0,326.2 205.1,323.6 205.3,322.5 205.4,319.3 205.6,317.4 205.7,316.4 205.8,313.8 206.0,312.8 206.1,312.7 206.3,309.3 206.4,306.7 206.5,305.1 206.7,303.8 206.8,303.8 207.0,300.9 207.1,299.0 207.5,296.8 207.9,297.7 208.3,294.5 208.7,292.2 209.1,290.2 209.6,288.6 210.0,287.2 210.4,287.0 210.8,283.9 211.2,282.0 211.6,281.6 212.0,279.3 212.4,279.8 212.9,275.7 213.3,275.3 213.8,274.4 214.2,271.7 214.6,271.8 215.1,268.7 215.5,266.5 216.0,265.3 216.4,262.7 216.8,262.2 217.2,260.1 217.6,260.4 218.0,258.6 218.4,256.1 218.8,253.2 219.2,252.3 219.6,250.7 219.9,249.0 220.3,247.5 220.7,247.7 221.1,244.1 221.5,242.2 221.9,243.1 222.3,240.5 222.7,240.1 223.1,236.9 223.5,236.7 223.8,234.4 224.0,233.2 224.3,231.5 224.6,229.3 224.9,226.5 225.1,225.3 225.4,225.6 225.7,224.1 225.9,222.5 226.2,219.3 226.5,218.6 226.8,217.4 227.0,215.4 227.3,214.3 227.6,211.9 227.9,210.7 228.1,209.2 228.4,206.5 228.8,206.5 229.2,204.8 229.5,200.6 229.9,201.3 230.4,199.7 230.8,197.3 231.3,194.0 231.8,194.8 232.2,191.1 232.7,191.9 233.2,189.5 233.7,186.2 234.1,184.9 234.6,184.7 235.4,183.0 236.2,182.1 236.9,181.1 237.7,177.7 238.5,175.6 239.3,176.7 240.1,172.7 240.9,173.7 241.7,170.1 242.4,170.6 243.2,169.1 244.0,167.9 245.2,165.8 246.4,165.5 247.6,162.4 248.8,162.5 249.9,160.4 251.1,160.8 252.3,159.3 253.5,157.2 254.9,156.2 256.2,153.7 257.6,152.5 258.9,152.9 260.3,151.5 261.6,151.4 263.0,149.5 264.5,149.6 266.0,151.6 266.5,154.3 267.1,155.1 267.6,155.2 268.1,159.1 268.6,160.6 269.2,160.0 269.7,162.8 270.3,160.7 270.9,160.2 271.5,157.2 272.1,155.3 272.7,154.4 273.3,154.1 273.9,150.0 274.5,148.4 275.1,148.1 276.7,148.4 278.3,146.9 279.9,146.3 281.4,147.0 283.0,146.3 284.6,143.9 286.3,146.7 288.0,145.3 289.6,146.1 291.3,148.1 293.0,147.4 294.6,149.0 296.3,147.8 298.0,150.2 299.8,148.5 301.7,148.7 303.5,149.8 305.3,149.6 307.2,150.4 309.0,151.6 310.5,151.8 312.0,150.5 313.5,152.0 315.0,153.4 316.5,153.9 318.0,155.2 319.5,155.3 321.0,154.8 322.8,155.1 324.7,156.5 326.5,154.9 328.3,155.8 330.2,156.2 332.0,155.0 333.6,154.2 335.1,153.1 336.7,151.4 338.3,152.2 339.8,150.0 341.4,150.4 342.6,149.9 343.8,152.6 344.9,153.6 346.1,154.3 347.3,155.0 348.5,155.4 349.6,158.4 350.8,158.4 352.0,160.5 353.7,159.5 355.3,159.9 357.0,160.6 358.6,163.0 360.3,161.8 362.0,163.2 363.8,161.2 365.5,161.2 367.2,159.9 368.9,160.1 370.7,158.0 372.4,158.3 373.7,160.7 375.1,159.5 376.4,161.8 377.7,161.8 379.0,162.6 380.4,162.8 381.7,163.7 383.0,167.2 384.3,167.8 385.7,168.6 387.0,169.6 388.7,170.5 390.3,168.7 392.0,170.4 393.6,170.6 395.3,171.4 397.0,172.9 398.6,172.9 400.3,173.9 401.9,172.0 403.6,174.0 404.9,175.4 406.2,176.8 407.4,177.8 408.7,179.6 410.0,179.4 410.3,182.9 410.5,183.1 410.8,185.2 411.0,187.7 411.3,188.9 411.5,189.4 411.8,190.8 413.2,192.1 414.6,193.8 416.0,195.8 417.4,196.5 418.8,196.0 420.2,196.9 421.6,199.0 423.0,198.5 424.4,199.8 425.8,199.6 427.2,201.0 428.6,202.9 430.0,204.3 431.4,205.0 432.7,205.2 434.0,207.8 435.4,207.8 436.7,207.4 438.0,208.1 439.4,211.5 440.7,212.5 442.0,213.2 443.3,213.3 444.6,213.4 446.0,213.7 447.3,215.0 448.6,215.9 450.0,218.8 451.3,219.6 452.6,220.2 454.0,219.2 455.5,220.2 456.9,221.1 458.4,223.7 459.8,222.3 461.3,224.8 462.7,225.3 464.2,225.7 465.6,227.6 467.1,226.4 468.5,227.9 470.0,227.7 471.4,228.3 472.9,228.9 474.3,230.4 475.8,230.7 477.2,231.3 478.8,234.3 480.5,232.8 482.1,234.9 483.7,234.8 485.4,235.3 487.0,235.5 488.6,236.8 490.3,237.0 491.9,237.0 493.5,237.0 495.2,237.8 496.8,238.3 498.4,238.3 500.1,238.6 501.7,238.0 503.3,240.3 505.0,239.7 506.6,238.9 508.3,239.5 509.9,241.8 511.6,240.5 513.2,241.2 514.9,242.4 516.5,243.2 518.2,242.1 519.8,242.6 521.5,243.1 523.1,242.3 524.8,244.0 524.8,280.0 523.2,279.2 521.6,280.0 520.0,278.5 518.4,277.9 516.8,277.2 515.2,278.7 513.6,279.1 512.0,277.9 510.4,277.8 508.8,275.7 507.2,276.3 505.6,276.9 504.0,276.7 502.4,275.6 500.7,276.3 499.1,275.8 497.5,274.3 495.8,274.0 494.2,276.0 492.5,273.9 490.9,274.0 489.3,273.5 487.6,275.4 486.0,274.0 484.4,273.0 482.8,273.7 481.2,274.4 479.7,273.9 478.1,273.4 476.5,273.2 474.9,272.2 473.3,271.1 471.8,272.9 470.2,271.5 468.6,270.6 467.0,271.6 465.3,269.7 463.7,268.7 462.0,269.3 460.3,268.8 458.7,268.6 457.0,269.0 455.3,266.2 453.7,265.8 452.0,265.5 450.8,266.0 449.6,263.5 448.4,261.1 447.2,261.0 446.0,259.1 444.4,258.5 442.8,256.7 441.2,255.6 439.6,254.9 438.0,254.7 436.4,253.7 434.8,255.4 433.2,253.0 431.6,253.7 430.0,251.2 428.6,251.4 427.1,249.4 425.7,248.8 424.3,247.3 422.9,249.1 421.4,246.6 420.0,244.9 418.8,244.9 417.5,244.7 416.2,241.6 415.0,242.8 413.8,240.3 412.5,239.6 411.2,240.1 410.0,236.7 408.4,237.4 406.8,236.7 405.1,236.4 403.5,236.9 401.9,237.5 400.2,236.2 398.6,237.7 397.0,236.3 395.4,235.9 393.8,238.0 392.1,237.7 390.5,238.0 388.9,237.6 387.2,238.8 385.6,237.8 384.0,236.8 382.3,236.1 380.5,235.7 378.8,235.4 377.0,236.3 375.3,235.5 373.6,236.3 371.9,236.4 370.1,236.7 368.4,235.1 366.7,236.2 365.0,236.7 363.2,237.4 361.5,236.2 359.8,235.9 358.0,238.5 356.3,238.4 354.9,236.5 353.5,236.1 352.1,234.2 350.7,234.5 349.3,234.8 347.9,232.7 346.4,231.9 345.0,232.3 343.6,230.7 342.1,229.4 340.7,227.4 339.0,229.8 337.2,228.4 335.5,229.5 333.7,229.1 332.0,228.5 330.3,228.6 328.5,227.6 326.8,227.1 325.0,228.0 323.3,227.4 321.7,225.8 320.1,226.7 318.4,227.4 316.8,226.0 315.2,223.5 313.6,223.8 311.9,224.9 310.3,222.1 308.7,222.7 307.1,224.2 305.4,223.7 303.8,223.2 302.2,225.5 300.6,224.2 298.9,226.8 297.3,224.6 295.7,225.4 294.1,225.3 292.4,226.7 290.8,227.4 289.2,227.9 287.6,228.1 285.9,226.7 284.3,226.8 283.0,227.7 281.6,230.5 280.3,229.8 279.0,232.5 277.7,231.2 276.3,233.3 275.0,233.0 273.3,234.9 271.7,234.6 270.0,236.3 268.3,238.0 266.7,237.8 265.0,239.3 263.6,238.7 262.1,239.5 260.7,240.0 259.3,240.9 257.9,241.2 256.4,241.9 255.0,244.9 253.9,246.1 252.8,246.1 251.7,247.6 250.6,249.7 249.4,249.0 248.3,251.2 247.2,251.2 246.1,254.3 245.0,255.5 244.2,255.9 243.5,258.7 242.8,258.3 242.0,259.8 241.2,260.8 240.5,264.6 239.8,264.5 239.0,265.0 238.2,267.5 237.5,269.3 236.8,269.2 236.0,271.9 235.5,274.8 235.1,276.0 234.6,276.4 234.1,277.4 233.7,281.1 233.2,281.0 232.7,283.5 232.3,285.6 231.8,286.1 231.3,287.2 230.9,289.3 230.4,291.2 229.9,294.1 229.5,294.5 229.0,295.7 228.4,297.7 227.9,300.2 227.3,299.5 226.7,302.3 226.1,303.0 225.6,304.7 225.0,307.1 224.4,307.8 223.9,310.2 223.3,310.5 222.7,312.4 222.1,313.7 221.6,317.3 221.0,317.3 220.6,318.8 220.3,320.4 219.9,321.6 219.6,323.5 219.2,325.5 218.9,326.6 218.5,328.3 218.2,331.2 217.8,330.9 217.5,334.8 217.1,335.9 216.8,338.3 216.4,338.8 216.1,339.7 215.7,342.1 215.4,344.3 215.0,345.3 214.7,346.8 214.4,347.0 214.1,349.6 213.7,351.3 213.4,352.1 213.1,355.6 212.8,354.7 212.5,357.9 212.2,359.9 211.8,360.9 211.5,362.4 211.2,364.9 210.9,366.6 210.6,368.1 210.3,369.2 209.9,371.2 209.6,371.3 209.3,374.0 209.0,375.1 208.6,376.7 208.2,378.5 207.9,380.3 207.5,381.6 207.1,381.6 206.8,383.7 206.4,386.8 206.0,386.1 205.6,388.1 205.2,389.5 204.9,392.5 204.5,392.8 204.1,394.3 203.8,396.5 203.4,397.1 203.0,400.1 202.6,400.8 202.2,404.7 201.8,406.2 201.3,407.0 200.9,408.5 200.5,410.9 200.1,412.1 199.7,412.0 199.2,416.0 198.8,415.8 198.4,419.7 198.0,419.6 197.3,422.7 196.7,422.9 196.0,424.0 195.3,427.1 194.7,428.6 194.0,429.6 193.3,429.8 192.7,432.6 192.0,433.1 190.5,434.2 189.0,435.9 187.5,436.5 186.0,437.2 184.4,437.8 182.8,437.8 181.1,436.9 179.5,437.1 177.9,437.6 176.3,438.4 174.7,437.7 173.0,436.8 171.4,437.7 169.8,436.2 168.2,438.3 166.6,436.3 165.0,435.8 163.3,438.0 161.7,437.7 160.1,436.6 158.5,436.3 156.9,437.7 155.2,438.1 153.6,438.3 152.0,437.0" fill="#fba3a3"/>
<polyline points="152.5,434.0 155.0,434.7 157.5,435.4 160.0,436.4 162.0,435.9 164.0,436.1 166.0,436.9 168.0,436.8 170.0,436.8 172.0,437.1 174.0,437.2 176.0,437.1 178.0,438.0 180.0,438.6 182.7,439.0 185.3,439.6 187.7,438.5 190.0,437.9 191.6,435.9 193.1,435.2 194.7,433.0 196.4,431.9 198.2,431.7 199.9,429.6 201.7,429.4 203.1,427.0 204.5,425.3 205.9,423.2 207.3,420.7 208.7,419.6 210.5,417.3 212.3,415.8 213.3,413.5 214.2,411.5 215.2,410.0 216.1,407.6 217.1,406.2 218.0,405.0 219.0,403.3 219.9,400.6 220.9,398.3 222.1,396.9 223.2,394.8 224.3,393.3 225.5,392.2 226.7,390.5 227.8,388.0 228.9,386.9 230.1,385.2 231.2,383.4 232.4,381.4 233.5,380.0 234.7,377.9 236.3,377.4 237.9,376.1 239.5,374.7 241.1,373.1 242.0,371.9 242.8,369.2 243.7,367.0 244.5,365.3 245.4,364.2 246.3,361.2 247.1,360.1 248.0,358.5 248.8,356.4 249.7,354.0 250.4,351.9 251.0,350.5 251.7,348.3 252.3,346.4 253.0,343.5 253.7,342.2 254.3,340.3 255.0,337.6 255.6,335.6 256.1,334.5 256.6,332.1 257.2,329.9 257.8,328.0 258.3,325.7 258.9,323.6 259.4,321.4 259.9,319.9 260.5,317.5 261.0,316.6 261.5,314.6 262.0,312.1 262.5,309.4 263.0,308.1 264.0,305.4 264.9,303.6 265.9,301.2 266.9,299.6 267.6,297.0 268.3,295.4 268.9,293.4 269.6,291.7 270.3,290.4 271.0,288.0 271.6,286.3 272.3,284.3 273.0,282.0 273.7,279.3 274.5,277.3 275.2,275.3 276.0,273.8 276.7,271.5 277.5,270.3 278.2,267.2 279.2,265.0 280.2,263.7 281.2,261.6 282.3,258.8 283.3,257.2 284.3,255.3 285.3,253.8 286.5,251.9 287.6,250.3 288.8,248.0 290.0,246.8 291.5,244.2 293.0,242.0 295.2,242.2 297.4,243.7 299.5,243.9 301.7,244.3 303.4,243.2 305.1,241.2 306.9,239.2 308.6,238.1 310.3,236.9 312.2,235.2 314.2,235.6 316.1,234.1 318.0,233.0 320.0,232.9 321.9,232.6 323.8,231.5 325.8,230.6 327.7,230.6 329.4,228.4 331.1,228.0 332.9,226.3 334.6,225.5 336.3,224.1 338.5,223.3 340.6,222.6 342.8,222.9 345.0,221.9 347.2,221.1 349.4,221.0 351.5,220.7 353.7,219.2 355.9,220.4 358.0,220.6 360.1,222.1 362.3,221.8 364.5,222.9 366.6,222.5 368.8,222.4 371.0,222.5 372.9,222.7 374.8,223.5 376.8,223.7 378.7,224.5 380.6,225.4 382.5,226.0 384.5,226.2 386.4,227.2 388.3,228.0 390.5,228.7 392.6,228.3 394.8,229.8 397.0,230.0 399.1,231.6 401.3,232.0 403.5,232.5 405.6,233.4 407.8,233.9 410.0,234.1 413.0,237.1 413.9,237.8 414.7,239.6 415.6,241.9 416.4,243.6 417.3,245.8 419.0,247.2 420.8,247.9 422.5,249.8 424.3,249.9 426.0,251.8 428.3,252.4 430.5,252.3 432.8,253.2 435.0,252.7 437.3,254.4 439.0,254.8 440.8,255.7 442.5,257.5 444.3,257.8 446.0,258.4 447.1,260.5 448.1,263.8 449.2,265.1 450.3,267.9 452.5,267.5 454.6,269.0 456.8,269.6 459.0,269.2 461.1,270.2 463.3,270.8 465.4,270.3 467.6,271.1 469.7,272.1 471.8,272.3 474.0,272.1 476.1,272.3 478.2,271.9 480.3,273.3 482.5,273.7 484.6,273.5 486.7,273.3 488.9,273.5 491.0,274.5 493.2,274.9 495.4,275.1 497.5,275.8 499.7,275.0 501.8,275.3 504.0,275.7 506.2,276.5 508.4,276.5 510.5,277.2 512.7,277.6 514.7,278.9 516.7,278.9 518.8,278.9 520.8,279.8 522.8,279.8 524.8,280.7" fill="none" stroke="#0000c8" stroke-width="5.6" stroke-linejoin="round" stroke-linecap="round"/>
<polyline points="153.0,432.0 155.2,431.8 157.5,431.5 159.8,432.2 162.0,431.5 164.3,431.2 166.7,432.4 169.0,431.8 171.2,432.3 173.4,432.4 175.6,433.5 177.8,434.2 180.0,434.2 182.2,433.5 184.5,434.2 186.8,434.1 189.0,433.3 191.0,431.9 193.0,431.2 194.5,429.2 196.0,426.6 196.6,424.5 197.2,422.3 197.9,419.6 198.5,418.2 199.0,415.9 199.5,414.2 200.0,412.0 200.5,409.6 201.0,408.3 201.5,404.9 202.0,403.0 202.5,400.8 202.9,399.5 203.3,396.1 203.7,394.5 204.1,392.8 204.5,390.2 205.0,388.3 205.5,385.4 206.0,383.2 206.5,380.8 207.1,378.6 207.8,376.3 208.4,373.7 209.0,372.7 209.7,370.3 210.4,368.2 211.1,366.0 211.8,363.6 212.5,361.6 213.4,360.7 214.2,358.5 215.1,355.9 216.0,354.3 216.8,352.6 217.7,349.4 218.1,347.8 218.6,345.9 219.0,343.8 219.5,342.1 219.9,339.7 220.4,337.5 220.8,336.5 221.3,333.9 221.8,332.4 222.2,329.5 222.7,327.7 223.1,326.0 223.6,323.4 224.0,321.9 224.5,319.5 225.1,317.8 225.6,315.6 226.1,314.2 226.7,311.8 227.2,309.4 227.8,307.9 228.3,305.7 228.8,303.3 229.4,302.0 229.9,299.7 230.6,297.0 231.2,295.9 231.9,293.8 232.5,291.4 233.2,290.8 233.9,288.4 234.5,287.0 235.2,284.4 235.8,282.4 236.5,280.1 237.2,278.9 237.8,276.8 238.5,274.5 239.1,273.5 239.8,271.2 240.8,268.5 241.7,267.8 242.7,265.1 243.6,263.8 244.6,261.1 245.5,258.6 246.5,257.3 247.4,255.1 248.4,253.7 249.5,251.5 250.5,249.6 251.6,247.9 252.6,246.2 253.7,244.7 254.8,243.1 255.8,240.7 256.9,238.6 258.1,236.6 259.3,235.7 260.4,233.4 261.6,232.5 262.8,230.1 264.0,229.0 265.2,226.0 266.4,225.3 267.6,222.6 268.7,221.0 269.9,219.4 271.1,217.5 272.5,216.0 273.9,214.4 275.4,212.8 276.8,210.3 278.2,209.4 279.8,207.0 281.4,205.2 283.0,202.7 284.4,201.8 285.9,199.3 287.3,197.5 288.7,196.7 290.3,195.2 291.9,193.3 293.4,192.1 295.0,190.9 296.7,189.3 298.4,188.6 300.0,187.1 301.7,186.1 303.4,185.2 305.0,183.2 306.7,182.1 308.3,181.4 310.0,180.1 311.8,179.2 313.6,177.6 315.4,176.4 317.2,175.1 319.0,174.4 321.2,174.1 323.3,174.5 325.5,173.6 327.7,174.0 329.8,172.7 332.0,172.7 334.2,174.0 336.4,174.8 338.5,176.2 340.7,178.0 342.6,176.1 344.4,174.6 346.3,174.0 348.1,172.7 350.0,172.0 351.9,169.8 353.9,169.6 355.8,168.3 357.8,166.8 359.7,165.8 361.3,166.7 362.9,169.1 364.5,169.4 366.2,170.9 367.8,172.4 369.4,173.8 371.0,174.8 373.2,175.4 375.5,176.6 377.8,177.2 380.0,177.7 382.1,179.4 384.1,179.4 386.2,180.3 388.3,181.7 390.0,183.1 391.8,183.9 393.5,186.2 395.3,187.9 397.0,188.7 398.9,190.0 400.7,190.8 402.6,191.8 404.4,193.3 406.3,195.1 408.1,196.6 410.0,197.1 411.8,198.0 413.6,198.9 415.4,200.1 417.2,200.6 419.0,201.8 420.8,203.2 422.6,203.1 424.4,204.7 426.2,205.1 428.0,205.9 429.8,207.2 431.6,208.6 433.4,209.3 435.2,210.3 437.0,211.7 438.7,212.5 440.5,214.0 442.3,215.3 444.1,216.2 445.9,216.9 447.7,217.2 448.7,219.4 449.7,221.1 450.7,223.2 451.7,224.5 452.7,227.5 453.7,228.4 455.1,229.8 456.6,232.1 458.0,232.9 459.5,233.8 460.9,235.3 462.4,237.5 464.1,238.4 465.9,241.1 467.6,242.0 469.3,243.7 471.2,245.2 473.0,245.6 474.9,246.2 476.7,247.8 478.6,248.1 480.4,249.3 482.3,250.9 484.5,251.5 486.6,252.2 488.8,252.3 491.0,253.2 492.9,254.0 494.7,255.5 496.6,257.0 498.4,256.8 500.3,257.8 502.1,259.5 504.0,260.8 506.2,261.9 508.4,262.4 510.5,263.4 512.7,264.9 515.0,266.1 517.2,266.3 519.5,267.5 521.7,267.8 524.0,268.5" fill="none" stroke="#007800" stroke-width="5.6" stroke-linejoin="round" stroke-linecap="round"/>
<polyline points="152.5,433.0 154.3,435.1 156.2,435.5 158.0,438.2 160.0,437.5 162.0,438.2 164.0,439.2 166.0,438.8 168.2,438.8 170.5,438.0 172.8,438.9 175.0,438.7 177.0,437.3 179.0,437.0 181.0,437.2 183.0,437.0 185.0,436.4 187.0,434.8 189.0,434.1 190.4,431.6 191.8,429.7 193.3,427.6 194.7,426.4 195.2,424.3 195.8,422.2 196.3,420.6 196.8,417.6 197.4,415.5 197.9,413.6 198.4,412.1 199.0,409.1 199.5,407.0 200.0,405.2 200.5,403.5 201.0,400.9 201.5,398.7 202.0,397.4 202.5,395.1 202.9,393.1 203.4,390.2 203.9,388.5 204.4,386.3 204.9,384.6 205.4,383.3 205.9,381.4 206.3,379.1 206.7,376.4 207.1,374.6 207.6,373.0 208.0,370.2 208.4,368.2 208.8,366.6 209.2,364.0 209.6,362.2 210.1,360.0 210.5,358.6 210.9,356.1 211.3,353.4 211.6,351.3 211.9,350.1 212.3,347.3 212.6,346.0 212.9,343.3 213.2,341.7 213.6,339.4 213.9,337.8 214.2,335.0 214.5,333.3 214.9,331.6 215.2,329.0 215.5,328.0 215.9,326.0 216.2,324.0 216.6,322.0 217.0,320.0 217.3,317.5 217.7,315.9 218.1,313.3 218.4,310.9 218.8,310.1 219.1,308.1 219.5,305.2 219.9,303.4 220.2,301.2 220.6,299.9 221.1,297.1 221.5,296.0 222.0,292.8 222.4,291.3 222.9,289.8 223.3,287.4 223.8,284.8 224.3,282.7 224.7,281.5 225.2,278.6 225.6,276.9 226.1,275.3 226.5,272.9 227.0,270.5 227.5,269.6 228.0,267.5 228.6,265.4 229.1,262.8 229.6,261.4 230.1,260.1 230.6,257.6 231.1,255.3 231.7,254.3 232.2,251.5 232.7,249.8 233.5,247.4 234.3,246.4 235.1,244.1 235.9,241.9 236.6,239.9 237.4,237.7 238.2,235.9 239.0,234.0 239.8,231.3 240.9,230.6 242.1,229.0 243.2,226.2 244.4,224.7 245.5,223.8 247.4,221.9 249.2,220.2 251.1,219.5 252.9,218.5 254.8,216.2 257.1,216.2 259.4,215.8 261.7,215.4 264.0,215.1 266.1,216.1 268.3,216.6 270.4,217.2 272.6,217.5 274.7,218.2 277.1,217.7 279.4,217.2 281.8,216.7 284.0,216.6 286.3,215.4 288.5,215.4 290.8,215.9 293.0,215.4 295.2,214.8 297.3,215.1 299.5,214.2 301.7,214.7 303.8,213.7 306.0,214.3 308.1,214.7 310.3,216.9 312.5,215.0 314.6,214.5 316.8,212.6 319.0,212.0 321.2,212.5 323.4,213.8 325.5,214.2 327.7,214.7 329.6,214.8 331.4,216.1 333.3,216.5 335.1,217.0 337.0,218.6 338.8,219.1 340.7,220.5 342.9,220.9 345.0,220.3 347.2,222.2 349.4,222.2 351.5,223.4 353.7,223.0 355.9,223.4 358.0,223.8 360.2,223.4 362.4,223.7 364.5,223.7 366.7,223.9 368.6,225.0 370.4,225.8 372.3,227.3 374.1,227.2 376.0,228.1 377.8,229.0 379.7,229.5 381.4,231.3 383.1,232.7 384.9,233.8 386.6,235.7 388.3,236.5 390.5,238.4 392.6,239.5 394.8,239.9 397.0,240.2 399.0,241.5 401.0,242.7 403.0,244.2 405.0,246.5 407.0,247.4 409.0,248.7 411.0,249.0 413.0,250.4 414.9,251.8 416.7,253.0 418.6,254.2 420.4,254.6 422.3,257.2 424.1,257.9 426.0,258.7 427.9,260.0 429.7,261.9 431.6,263.3 433.4,263.3 435.3,264.8 437.1,265.8 439.0,267.9 440.9,268.8 442.7,269.8 444.6,270.2 446.4,271.5 448.3,273.2 450.1,273.4 452.0,274.2 453.9,274.9 455.7,276.5 457.6,276.5 459.4,277.9 461.3,278.5 463.1,279.5 465.0,279.2 466.2,281.4 467.4,284.2 468.6,285.5 469.8,286.8 471.0,288.8 473.3,288.3 475.7,288.4 478.0,287.3 480.2,287.6 482.3,288.3 484.5,289.6 486.6,290.1 488.8,290.3 491.0,290.5 493.1,290.8 495.3,291.4 497.2,293.0 499.2,293.2 501.1,292.9 503.0,294.6 505.0,295.4 506.9,295.2 508.8,296.5 510.8,296.3 512.7,296.9 514.7,297.7 516.7,298.6 518.8,299.1 520.8,299.7 522.8,300.2 524.8,301.5" fill="none" stroke="#000" stroke-width="5.6" stroke-linejoin="round" stroke-linecap="round"/>
<polyline points="152.7,429.6 155.0,428.7 155.8,431.2 156.5,433.2 157.3,436.3 159.6,436.1 162.0,438.6 164.3,439.3 166.6,438.8 169.0,438.1 171.3,436.6 173.7,437.2 176.0,436.7 178.3,435.8 180.7,436.5 183.0,434.6 185.3,433.6 186.4,430.9 187.5,429.8 188.6,427.0 189.2,425.0 189.8,422.9 190.4,420.8 191.0,419.4 191.4,416.6 191.9,414.2 192.4,412.8 192.8,410.4 193.2,407.7 193.6,405.3 194.0,403.9 194.3,401.5 194.7,399.1 195.1,396.9 195.5,394.8 195.9,392.9 196.4,390.5 196.8,388.2 197.2,386.8 197.6,384.4 198.1,382.1 198.5,380.4 199.0,378.9 199.4,377.1 199.9,373.9 200.3,372.9 200.8,370.2 201.3,368.9 201.7,366.9 202.2,364.0 202.7,362.4 203.1,360.3 203.6,357.7 204.0,356.7 204.5,354.2 204.8,352.6 205.1,349.5 205.4,347.7 205.7,346.6 206.0,343.7 206.3,341.8 206.6,339.7 206.8,338.5 207.1,335.7 207.4,333.5 207.7,331.5 208.0,330.6 208.3,327.4 208.6,325.5 208.9,323.8 209.2,322.1 209.6,320.5 210.0,318.7 210.4,316.0 210.8,314.2 211.2,311.7 211.5,310.0 211.9,307.4 212.3,306.3 212.7,304.0 213.1,302.2 213.5,300.5 213.8,298.5 214.2,296.7 214.5,294.3 214.8,291.5 215.2,289.8 215.5,288.2 215.8,285.5 216.2,283.8 216.5,281.8 217.2,279.4 217.9,277.8 218.6,276.1 219.2,274.4 219.9,271.9 220.6,269.8 221.3,267.1 221.8,266.3 222.4,263.9 222.9,261.8 223.5,259.5 224.0,257.6 224.6,254.9 225.1,253.2 225.7,250.8 226.2,250.1 226.8,247.2 227.3,245.6 227.9,243.7 228.4,241.3 229.4,240.0 230.3,238.0 231.3,235.4 232.2,232.8 233.2,231.8 234.1,229.5 235.1,226.8 236.0,225.8 237.0,223.6 238.0,222.3 239.0,220.0 240.0,217.9 241.1,215.6 242.1,213.9 243.1,212.9 244.1,211.2 246.0,208.8 247.9,207.5 249.8,205.3 251.9,203.6 254.0,202.4 255.3,200.0 256.7,198.7 258.0,195.4 259.2,193.9 260.4,192.6 261.6,191.6 263.8,192.7 266.0,194.7 267.7,196.8 269.3,197.8 271.0,199.8 271.8,197.3 272.6,195.0 273.4,194.0 274.1,191.6 274.9,189.5 275.7,188.1 276.5,185.5 278.7,184.7 280.9,184.1 283.0,183.6 285.2,183.8 287.2,184.6 289.1,184.4 291.1,184.9 293.0,185.8 295.0,186.3 296.9,188.2 298.8,188.9 300.6,190.3 302.5,190.7 304.0,189.9 305.6,188.5 307.1,186.3 308.6,185.8 310.5,186.0 312.3,188.2 314.1,189.4 316.0,190.6 318.4,190.9 320.9,192.4 323.3,193.5 325.5,192.5 327.6,192.9 329.8,192.1 332.0,191.8 333.7,191.2 335.5,189.6 337.2,188.3 339.0,185.9 340.7,185.0 341.9,186.1 343.1,188.4 344.4,190.1 345.6,191.5 346.8,193.3 348.0,194.9 349.5,196.0 351.0,198.2 352.4,200.3 353.9,201.7 355.4,202.6 357.1,201.2 358.9,199.4 360.6,197.5 362.3,196.2 363.8,197.5 365.2,199.2 366.7,201.0 368.4,199.6 370.2,197.3 371.9,195.0 373.9,196.9 375.9,197.8 377.9,198.5 380.0,198.6 382.0,199.9 384.0,200.3 386.2,202.0 388.4,203.4 390.5,204.2 392.7,205.0 394.9,205.7 397.0,205.4 399.1,206.3 401.3,206.2 403.7,206.6 406.1,207.0 408.5,207.9 408.8,209.7 409.1,212.4 409.4,213.6 409.8,216.0 410.1,218.0 410.4,219.8 411.8,221.3 413.2,222.9 414.5,224.9 415.9,226.8 417.3,227.7 419.3,227.6 421.4,225.5 423.4,225.5 424.3,227.4 425.1,229.6 426.0,230.8 426.9,232.9 427.7,234.8 428.6,237.1 429.4,239.7 430.3,242.3 431.5,239.8 432.7,238.2 434.0,235.3 435.2,233.4 436.4,231.9 438.1,234.2 439.9,235.0 441.6,237.5 443.3,239.7 445.5,239.9 447.6,240.9 449.8,241.2 452.0,242.5 454.1,243.2 456.3,243.9 458.5,244.4 460.6,245.7 462.8,246.5 465.0,247.3 466.7,249.4 468.5,249.7 470.2,250.4 472.0,251.3 473.7,253.4 475.9,252.8 478.0,252.3 480.2,253.0 482.4,252.9 484.5,253.0 486.7,252.8 488.9,251.6 491.0,250.3 492.9,250.9 494.7,251.3 496.6,251.9 498.4,253.3 500.3,254.0 502.1,254.1 504.0,254.8 505.7,256.7 507.5,257.8 509.2,259.3 511.0,261.1 512.7,262.7 515.3,260.6 517.9,260.1 519.6,261.4 521.3,262.1 523.1,263.7 524.8,265.0" fill="none" stroke="#ff0000" stroke-width="5.6" stroke-linejoin="round" stroke-linecap="round"/>
<polyline points="153.6,429.0 155.3,431.1 156.9,430.9 158.5,429.5 160.2,430.2 161.8,430.1 163.5,430.7 165.1,431.2 166.7,429.3 168.4,429.1 170.0,431.4 171.6,430.4 173.3,431.3 174.9,429.2 176.5,430.5 178.2,431.3 179.8,430.0 181.5,432.1 183.1,432.0 184.7,429.6 186.4,429.6 188.0,431.1 188.7,430.6 189.3,427.5 190.0,425.5 190.7,424.4 191.3,421.8 192.0,420.7 192.7,419.7 193.3,418.3 194.0,416.0 194.7,414.4 195.3,412.8 196.0,411.9 196.4,409.8 196.8,407.5 197.2,408.1 197.6,405.8 198.0,404.4 198.4,401.5 198.8,402.2 199.2,400.2 199.6,396.5 200.0,395.5 200.4,395.0 200.8,393.4 201.2,392.4 201.6,389.4 202.0,388.9 202.4,386.9 202.8,384.2 203.2,383.4 203.6,382.7 204.0,381.0 204.4,378.4 204.7,377.1 205.1,373.9 205.5,372.9 205.8,372.9 206.2,370.2 206.5,367.9 206.9,367.4 207.3,366.3 207.6,364.6 208.0,362.1 208.4,360.7 208.7,359.3 209.1,358.5 209.5,356.2 209.8,354.2 210.2,352.9 210.5,350.0 210.9,348.5 211.3,348.8 211.6,347.9 212.0,345.3 212.4,343.1 212.7,340.9 213.1,340.2 213.5,340.0 213.8,337.8 214.2,335.6 214.5,334.9 214.9,331.5 215.3,330.7 215.6,330.4 216.0,327.7 216.4,325.8 216.7,323.7 217.1,322.9 217.5,322.4 217.8,318.2 218.2,318.7 218.5,317.3 218.9,315.9 219.3,313.9 219.6,312.5 220.0,310.1 220.4,308.6 220.8,306.6 221.3,304.0 221.7,304.7 222.1,302.3 222.5,299.7 222.9,299.0 223.4,297.3 223.8,295.4 224.2,293.8 224.6,292.7 225.1,291.4 225.5,289.8 225.9,287.8 226.3,285.0 226.7,284.0 227.2,282.3 227.6,281.8 228.0,281.0 228.6,279.3 229.1,277.7 229.7,276.2 230.3,273.0 230.9,273.1 231.4,271.1 232.0,267.8 232.6,266.1 233.1,264.5 233.7,265.0 234.3,262.0 234.9,260.0 235.4,259.9 236.0,257.6 236.7,255.3 237.4,254.0 238.1,253.5 238.8,250.9 239.5,249.7 240.2,249.4 240.8,247.1 241.5,245.2 242.2,244.1 242.9,241.3 243.6,240.8 244.3,239.3 245.0,237.1 245.8,235.4 246.5,236.0 247.3,233.4 248.1,231.0 248.8,230.6 249.6,229.7 250.4,225.9 251.2,224.3 251.9,223.2 252.7,223.2 253.5,220.1 254.2,220.1 255.0,218.5 255.9,216.7 256.7,214.3 257.6,214.9 258.5,213.0 259.3,210.7 260.2,208.4 261.1,208.1 261.9,206.0 262.8,205.0 263.7,202.8 264.5,202.2 265.4,199.2 266.3,198.4 267.1,198.8 268.0,197.1 268.9,194.0 269.7,194.1 270.6,191.2 271.4,191.5 272.3,189.5 273.1,187.2 274.0,185.3 274.9,183.2 275.7,184.2 276.6,180.4 277.4,181.2 278.3,180.2 279.1,177.6 280.0,175.1 281.0,175.7 282.0,174.6 283.0,172.5 284.0,170.6 285.0,168.8 286.0,167.4 287.0,165.6 288.0,165.6 289.0,163.5 290.0,161.5 291.0,159.9 292.4,160.4 293.8,158.3 295.2,157.8 296.6,156.3 297.9,156.8 299.3,155.8 300.7,152.3 302.1,151.8 303.5,151.1 304.9,151.9 305.9,150.0 307.0,147.6 308.0,146.0 309.1,146.0 310.1,145.2 311.1,144.2 312.2,141.3 313.2,141.6 314.2,139.8 315.3,138.0 316.3,138.2 317.4,134.8 318.4,134.9 320.1,132.6 321.8,132.4 323.5,134.0 325.1,131.5 326.8,132.5 328.5,131.6 330.2,131.8 331.9,129.9 333.5,130.2 335.1,130.4 336.8,132.3 338.4,132.0 340.0,133.3 341.5,132.3 343.0,129.5 344.5,129.9 346.0,127.9 347.5,127.1 349.0,126.6 350.5,128.2 352.0,127.3 353.2,126.0 354.5,123.3 355.8,122.7 357.0,121.8 358.5,118.9 360.0,117.7 361.3,118.2 362.7,119.3 364.0,121.3 365.5,124.2 367.0,124.4 368.5,126.6 370.0,126.4 371.7,126.0 373.3,127.6 375.0,127.9 376.7,125.8 378.3,127.8 380.0,126.4 381.3,127.3 382.7,130.4 384.0,129.0 385.3,130.4 386.7,133.5 388.0,132.8 388.9,133.3 389.9,134.8 390.8,136.4 391.7,139.2 392.6,138.8 393.5,142.4 394.5,142.3 395.4,145.3 396.6,146.3 397.7,145.8 398.9,146.8 400.1,148.6 401.3,148.8 402.4,151.5 403.6,151.0 404.8,152.1 405.9,156.0 407.1,155.2 408.3,157.2 409.5,158.0 410.6,158.8 411.8,159.3 413.3,162.5 414.7,163.6 416.2,164.5 417.7,163.0 419.2,164.2 420.6,166.2 422.1,168.1 423.6,167.7 425.1,169.0 426.5,169.9 428.0,169.6 429.4,171.2 430.8,171.4 432.2,172.1 433.6,172.4 435.0,173.8 436.4,176.6 437.9,175.9 439.3,177.3 440.7,178.1 442.1,179.7 443.5,179.0 444.9,179.6 446.3,180.5 447.7,181.3 448.4,184.4 449.0,186.1 449.7,186.1 450.3,187.8 451.0,190.0 451.7,191.7 452.3,193.4 453.0,194.0 453.6,195.0 454.3,197.3 455.4,198.1 456.6,200.7 457.7,200.6 458.8,201.9 460.0,204.7 461.1,205.0 462.2,207.7 463.3,208.1 464.5,210.4 465.6,209.7 466.7,212.0 467.9,214.1 469.0,213.3 470.3,216.8 471.5,215.6 472.8,218.3 474.0,219.9 475.3,220.4 476.6,220.0 477.8,220.5 479.1,222.6 480.4,224.7 481.6,224.0 482.9,226.7 484.1,225.6 485.4,228.7 486.9,227.0 488.4,228.6 489.8,230.9 491.3,231.4 492.8,232.4 494.3,233.0 495.8,233.4 497.3,234.0 498.7,233.3 500.2,234.8 501.7,234.7 503.2,236.9 504.8,237.3 506.3,236.7 507.9,236.7 509.4,239.8 510.9,239.9 512.5,239.7 514.0,240.2 515.6,241.7 517.1,241.1 518.6,241.5 520.2,241.9 521.7,242.2 523.3,242.1" fill="none" stroke="#b4f5b4" stroke-width="1.9" stroke-dasharray="1.9 3.6"/>
<polyline points="153.6,436.2 155.3,435.1 156.9,437.3 158.5,437.2 160.2,435.9 161.8,436.5 163.5,435.2 165.1,435.2 166.7,435.4 168.4,436.5 170.0,435.2 171.6,437.3 173.3,434.8 174.9,435.1 176.5,434.8 178.2,436.8 179.8,435.6 181.5,435.9 183.1,435.5 184.7,436.4 186.4,435.7 188.0,435.2 189.6,435.0 191.2,433.9 192.8,432.5 194.4,433.7 196.0,432.5 196.8,431.0 197.5,430.1 198.2,427.2 199.0,425.7 199.8,424.3 200.5,422.7 201.2,422.0 202.0,418.6 202.6,418.2 203.1,416.8 203.7,414.6 204.2,412.0 204.8,412.2 205.3,408.6 205.9,408.5 206.4,405.7 207.0,403.7 207.4,402.4 207.9,400.5 208.3,399.0 208.8,398.9 209.2,397.3 209.7,394.6 210.1,393.8 210.6,391.6 211.0,390.0 211.4,389.3 211.8,386.0 212.1,385.8 212.5,383.5 212.9,381.8 213.2,378.1 213.6,376.6 214.0,374.7 214.4,373.8 214.8,373.7 215.1,371.8 215.5,369.9 215.9,366.2 216.2,366.1 216.6,364.5 217.0,362.9 217.5,361.3 217.9,357.9 218.4,356.5 218.8,356.6 219.3,354.9 219.7,353.8 220.2,351.0 220.6,350.7 221.1,347.1 221.5,347.8 222.0,346.1 222.7,343.0 223.4,340.7 224.1,340.5 224.8,339.4 225.5,336.9 226.2,334.6 226.9,333.6 227.7,333.6 228.4,330.1 229.1,330.9 229.8,327.4 230.5,325.8 231.2,324.0 231.9,324.9 232.6,323.1 233.1,319.9 233.5,317.7 234.0,317.6 234.5,316.7 234.9,312.6 235.4,312.8 235.8,311.8 236.3,309.1 236.8,307.8 237.2,306.9 237.7,303.7 238.2,302.2 238.6,301.6 239.1,299.7 239.7,298.2 240.2,296.1 240.8,296.3 241.4,293.0 241.9,292.6 242.5,291.7 243.0,288.8 243.6,286.4 244.2,285.3 244.7,283.4 245.3,282.1 245.9,280.5 246.4,279.7 247.0,278.2 247.5,277.0 248.1,276.1 248.7,274.6 249.2,273.1 249.8,270.7 250.7,270.2 251.6,268.5 252.5,266.0 253.4,265.8 254.3,263.8 255.2,263.4 256.0,262.2 256.9,259.5 257.8,258.7 258.7,257.4 259.6,255.6 260.5,253.5 261.6,252.3 262.6,253.8 263.7,251.8 264.7,249.8 265.8,249.2 266.9,246.9 267.9,246.9 269.0,246.4 270.0,244.7 271.1,242.6 272.5,242.6 274.0,241.0 275.4,237.2 276.7,237.0 278.1,236.0 279.4,234.4 280.7,234.2 282.0,231.8 283.4,232.3 284.7,231.5 286.0,228.2 287.3,228.8 288.7,226.5 290.0,226.4 291.5,225.9 293.1,226.1 294.6,225.0 296.2,223.1 297.7,223.6 299.2,221.3 300.8,222.3 302.3,220.8 303.8,219.8 305.4,219.1 306.9,218.4 308.5,219.4 310.0,216.9 311.7,217.0 313.3,216.6 315.0,216.3 316.7,217.6 318.3,217.0 320.0,217.0 321.7,217.4 323.3,215.9 325.0,214.5 326.7,214.6 328.3,215.3 330.0,215.6 331.7,216.0 333.3,214.7 335.0,213.7 336.7,214.6 338.3,215.4 340.0,213.5 341.7,215.0 343.3,214.8 345.0,213.7 346.7,213.3 348.3,212.1 350.0,211.9 351.7,211.5 353.3,213.0 355.0,213.1 356.7,213.7 358.3,212.5 360.0,213.4 361.6,212.1 363.2,211.8 364.7,212.0 366.3,213.1 367.9,214.2 369.5,215.9 371.1,214.4 372.6,214.6 374.2,216.4 375.8,215.9 377.4,216.8 378.9,216.1 380.5,218.5 382.1,219.1 383.7,219.0 385.3,220.0 386.8,218.7 388.4,218.3 390.0,219.5 391.5,221.9 393.0,221.4 394.5,221.4 396.0,222.0 397.5,222.8 399.0,224.3 400.5,226.4 402.0,227.1 403.5,227.5 405.0,228.2 406.5,227.4 408.0,229.8 409.5,229.0 411.0,230.6 412.5,229.9 414.0,233.1 415.5,231.7 417.0,233.8 418.5,234.7 420.0,235.4 421.5,236.3 423.0,236.1 424.5,238.1 426.0,239.2 427.5,239.1 429.0,240.8 430.5,241.2 432.0,239.8 433.5,242.2 435.0,241.4 436.5,243.7 438.0,243.6 439.5,245.7 441.0,244.2 442.5,247.5 444.0,245.7 445.5,246.5 447.0,247.1 448.5,248.2 450.0,251.4 451.4,251.8 452.7,253.0 454.1,251.8 455.5,254.2 456.8,255.4 458.2,256.1 459.5,255.7 460.9,258.6 462.3,258.8 463.6,259.6 465.0,259.4 466.4,260.6 467.7,262.5 469.1,262.8 470.5,263.6 471.8,265.7 473.2,265.2 474.5,267.4 475.9,266.0 477.3,268.3 478.6,269.7 480.0,268.6 481.5,271.2 483.0,270.7 484.5,272.4 486.0,273.0 487.5,272.3 489.0,275.2 490.5,273.9 491.9,274.3 493.4,275.8 494.9,275.4 496.4,276.2 497.9,278.7 499.4,277.5 500.9,279.4 502.4,281.1 503.9,280.5 505.4,282.2 506.9,282.9 508.4,281.7 509.9,282.1 511.4,284.8 512.9,285.7 514.3,286.3 515.8,286.6 517.3,286.7 518.8,288.6 520.3,288.7 521.8,289.4 523.3,290.5" fill="none" stroke="#b4f5b4" stroke-width="1.9" stroke-dasharray="1.9 3.6"/>
<polyline points="153.7,431.3 155.3,431.3 157.0,428.9 158.6,429.0 160.3,431.2 161.9,430.9 163.6,430.8 165.2,429.8 166.9,430.7 168.5,430.7 170.2,430.7 171.8,429.6 173.5,430.4 175.1,430.3 176.8,431.3 178.4,432.1 180.1,432.0 181.7,430.9 183.4,430.7 185.0,430.2 186.7,429.6 188.3,429.6 190.0,430.9 190.5,429.0 190.9,427.6 191.4,427.5 191.9,425.0 192.4,423.5 192.8,421.1 193.3,419.0 193.8,418.3 194.2,416.2 194.7,415.7 195.2,415.6 195.6,413.1 196.1,410.2 196.6,410.7 197.1,408.9 197.5,407.2 198.0,406.1 198.3,404.1 198.6,402.6 199.0,399.8 199.3,399.9 199.6,398.3 199.9,394.5 200.2,394.5 200.6,392.8 200.9,390.5 201.2,389.1 201.5,387.4 201.8,387.0 202.2,384.2 202.5,383.5 202.8,380.6 203.1,380.5 203.4,378.9 203.8,376.1 204.1,374.8 204.4,374.2 204.7,372.0 205.0,369.8 205.4,367.4 205.7,366.1 206.0,365.6 206.3,362.5 206.6,362.9 207.0,359.6 207.3,359.8 207.6,356.5 207.9,356.7 208.2,354.4 208.6,352.2 208.9,350.6 209.2,349.4 209.5,347.6 209.8,345.3 210.2,343.4 210.5,342.6 210.8,342.2 211.1,339.7 211.4,336.6 211.8,337.1 212.1,335.2 212.4,334.1 212.7,330.5 213.0,330.5 213.4,327.0 213.7,327.0 214.0,324.4 214.3,322.7 214.6,322.9 214.9,319.2 215.3,318.7 215.6,318.1 215.9,314.8 216.2,313.1 216.5,313.4 216.8,310.6 217.2,309.8 217.5,306.3 217.8,305.7 218.1,303.6 218.4,303.4 218.7,300.1 219.1,301.0 219.4,296.8 219.7,297.2 220.0,293.7 220.4,292.7 220.8,292.7 221.1,289.3 221.5,287.8 221.9,287.7 222.3,285.3 222.7,282.7 223.0,283.8 223.4,279.9 223.8,278.0 224.2,277.3 224.6,276.5 225.0,275.3 225.3,271.9 225.7,271.0 226.1,268.5 226.5,268.1 226.9,267.5 227.2,265.8 227.6,264.7 228.0,262.7 228.6,261.5 229.2,259.6 229.9,257.4 230.5,255.2 231.1,255.0 231.8,252.5 232.4,250.4 233.0,249.9 233.6,249.5 234.2,246.0 234.9,245.7 235.5,243.7 236.1,242.5 236.8,240.0 237.4,240.8 238.0,237.3 239.0,237.0 240.0,235.1 241.0,232.7 242.0,232.8 243.0,230.3 244.0,228.8 245.0,227.4 246.0,226.4 247.0,224.9 248.0,225.0 249.0,223.4 250.0,223.4 251.2,222.2 252.5,221.4 253.8,218.3 255.0,217.8 256.2,216.3 257.5,216.3 258.8,215.3 260.0,214.8 261.2,213.6 262.5,211.3 263.8,210.8 265.0,210.1 266.6,208.2 268.2,207.8 269.8,208.4 271.4,207.1 273.0,208.4 274.5,206.5 276.1,205.7 277.7,205.5 279.3,205.2 280.9,204.7 282.5,205.1 284.1,204.4 285.7,203.6 287.3,204.0 288.9,202.4 290.5,203.9 292.0,203.6 293.6,202.5 295.2,201.2 296.8,200.9 298.4,200.7 300.0,198.7 301.7,199.8 303.3,200.1 305.0,199.1 306.7,198.9 308.3,200.8 310.0,199.6 311.7,200.1 313.3,201.2 315.0,200.3 316.7,199.4 318.3,201.4 320.0,199.6 321.7,198.7 323.3,200.5 325.0,198.9 326.7,199.5 328.3,201.0 330.0,200.5 331.6,199.1 333.2,200.7 334.7,201.0 336.3,201.6 337.9,201.3 339.5,202.8 341.1,201.8 342.6,202.8 344.2,203.4 345.8,205.4 347.4,203.4 348.9,205.8 350.5,204.6 352.1,206.1 353.7,206.0 355.3,206.6 356.8,207.9 358.4,207.3 360.0,206.9 361.6,207.5 363.2,207.9 364.7,210.6 366.3,210.5 367.9,211.9 369.5,211.7 371.1,210.4 372.6,212.7 374.2,213.5 375.8,213.9 377.4,213.8 378.9,213.9 380.5,214.7 382.1,216.2 383.7,215.2 385.3,216.5 386.8,216.9 388.4,218.7 390.0,218.9 391.4,220.0 392.9,220.6 394.3,219.9 395.7,220.5 397.1,222.0 398.6,222.2 400.0,223.5 401.4,225.0 402.9,226.5 404.3,226.3 405.7,227.8 407.1,226.6 408.6,228.1 410.0,230.7 411.4,229.2 412.9,230.7 414.3,230.5 415.7,231.4 417.1,234.5 418.6,235.6 420.0,235.4 421.4,234.9 422.7,236.2 424.1,237.0 425.5,239.1 426.8,240.1 428.2,240.3 429.5,241.4 430.9,241.2 432.3,243.3 433.6,245.4 435.0,245.7 436.4,244.8 437.7,246.9 439.1,248.3 440.5,248.0 441.8,250.7 443.2,250.3 444.5,251.9 445.9,252.0 447.3,254.6 448.6,254.9 450.0,255.2 451.5,254.7 453.0,256.1 454.5,255.6 456.0,257.9 457.5,259.3 459.0,258.0 460.5,259.6 462.0,260.2 463.5,260.6 465.0,262.1 466.5,263.4 468.0,263.4 469.5,263.4 471.0,265.4 472.5,264.3 474.0,266.1 475.5,266.5 477.0,267.4 478.5,268.3 480.0,267.2 481.5,268.9 483.1,268.9 484.6,270.2 486.2,271.7 487.7,271.3 489.3,270.1 490.8,272.0 492.4,273.3 493.9,274.3 495.4,274.3 497.0,275.3 498.5,273.7 500.1,276.9 501.6,276.8 503.2,277.1 504.7,278.5 506.3,279.0 507.8,277.4 509.4,280.0 510.9,280.5 512.4,279.5 514.0,281.6 515.5,281.7 517.1,281.2 518.6,283.5 520.2,282.2 521.7,284.1 523.3,284.2" fill="none" stroke="#a0a0a4" stroke-width="1.9" stroke-dasharray="1.9 3.6"/>
<polyline points="153.7,436.0 155.3,437.3 157.0,436.1 158.6,437.6 160.3,437.3 161.9,436.7 163.6,437.3 165.2,437.2 166.9,435.7 168.5,437.1 170.2,437.3 171.8,437.1 173.5,438.1 175.2,437.7 176.8,436.7 178.5,436.2 180.1,436.0 181.8,437.9 183.4,437.5 185.1,437.3 186.7,436.8 188.4,437.0 190.0,436.2 191.7,437.1 193.3,436.0 195.0,437.3 195.8,435.9 196.5,434.5 197.2,431.8 198.0,429.9 198.8,429.0 199.5,428.5 200.2,426.5 201.0,425.7 201.3,423.2 201.5,421.6 201.8,421.4 202.1,417.8 202.3,416.3 202.6,415.8 202.8,414.3 203.1,412.2 203.4,411.0 203.6,409.0 203.9,408.1 204.2,407.1 204.4,405.4 204.7,403.3 204.9,401.2 205.2,401.0 205.5,398.0 205.7,396.9 206.0,396.0 206.3,393.9 206.6,391.5 206.9,390.9 207.3,389.0 207.6,388.3 207.9,385.9 208.2,384.0 208.5,383.7 208.8,380.9 209.2,378.9 209.5,378.9 209.8,377.3 210.1,373.6 210.4,371.7 210.7,372.3 211.1,370.8 211.4,367.8 211.7,365.9 212.0,365.5 212.3,364.6 212.6,361.0 212.9,360.1 213.2,359.1 213.5,356.3 213.8,355.2 214.1,352.9 214.4,352.2 214.7,349.9 215.0,347.9 215.2,347.2 215.5,344.9 215.8,343.3 216.1,341.7 216.4,340.9 216.7,339.0 217.0,338.6 217.3,336.1 217.6,334.1 217.9,332.3 218.2,331.0 218.5,330.7 218.9,327.6 219.3,326.7 219.7,326.1 220.1,324.6 220.5,322.0 220.9,321.5 221.3,319.3 221.7,316.6 222.1,314.6 222.4,313.3 222.8,313.4 223.2,310.7 223.6,310.4 224.0,309.2 224.4,307.5 224.8,304.7 225.2,301.8 225.6,301.0 226.0,299.2 226.8,298.9 227.6,297.6 228.5,296.8 229.3,294.7 230.1,293.9 230.9,291.6 231.8,289.6 232.6,289.2 233.4,286.1 234.2,286.1 235.1,284.5 235.9,283.4 236.7,279.7 237.5,278.5 238.4,279.2 239.2,275.5 240.0,274.9 240.9,273.9 241.7,272.1 242.6,271.8 243.4,270.6 244.3,267.4 245.1,265.4 246.0,266.2 246.9,263.4 247.7,261.4 248.6,259.7 249.4,257.9 250.3,258.1 251.1,255.8 252.0,255.2 253.2,254.9 254.5,252.5 255.8,252.5 257.0,248.8 258.2,249.5 259.5,248.2 260.8,247.5 262.0,243.7 263.7,244.5 265.3,244.2 267.0,243.8 268.7,242.9 270.3,241.9 272.0,243.1 273.6,242.3 275.2,241.0 276.8,240.9 278.4,238.9 280.0,236.8 281.2,237.2 282.3,234.2 283.5,234.7 284.7,233.1 285.8,230.5 287.0,229.0 288.6,228.5 290.2,228.6 291.9,230.6 293.5,228.2 295.1,229.8 296.8,227.5 298.4,227.8 300.0,227.9 301.7,227.9 303.3,230.0 305.0,228.3 306.7,229.3 308.3,228.8 310.0,228.9 311.7,230.9 313.3,230.2 315.0,231.0 316.7,231.9 318.3,230.5 320.0,230.8 321.6,232.8 323.2,234.0 324.8,231.6 326.4,233.1 328.0,235.0 329.6,234.9 331.2,235.6 332.8,234.6 334.4,236.2 336.0,234.0 337.6,235.4 339.2,236.8 340.8,235.9 342.4,236.3 344.0,236.7 345.6,236.8 347.2,238.3 348.8,239.1 350.4,237.3 352.0,237.9 353.6,239.6 355.2,239.7 356.8,240.2 358.4,240.2 360.0,241.2 361.5,241.5 363.1,241.5 364.6,241.1 366.2,241.1 367.7,243.9 369.2,244.5 370.8,245.1 372.3,244.0 373.8,245.9 375.4,247.0 376.9,245.5 378.5,245.6 380.0,246.6 381.5,247.3 383.1,249.2 384.6,250.1 386.2,250.7 387.7,250.9 389.2,252.3 390.8,252.9 392.3,251.9 393.8,253.9 395.4,253.9 396.9,253.1 398.5,254.7 400.0,254.1 401.4,255.6 402.9,257.7 404.3,256.4 405.7,258.8 407.1,259.5 408.6,260.0 410.0,260.3 411.4,262.5 412.9,262.9 414.3,263.2 415.7,264.9 417.1,266.6 418.6,265.9 420.0,268.8 421.5,267.6 422.9,269.5 424.4,269.9 425.8,272.1 427.3,272.9 428.8,273.3 430.2,272.8 431.7,273.7 433.2,275.8 434.6,275.7 436.1,276.8 437.5,277.9 439.0,277.1 440.6,278.4 442.1,280.7 443.7,279.7 445.3,281.8 446.9,280.6 448.4,280.9 450.0,283.0 451.2,283.4 452.5,285.3 453.8,286.9 455.0,285.8 456.2,288.2 457.5,288.8 458.8,291.4 460.0,292.2 461.2,293.4 462.5,294.0 463.8,293.9 465.0,295.7 465.5,297.1 466.0,298.1 466.4,299.4 466.9,302.0 467.4,304.2 467.9,303.9 468.3,305.8 468.8,306.8 469.3,308.9 471.0,308.3 472.8,306.8 474.5,307.6 476.3,306.1 478.0,306.7 479.6,305.4 481.1,307.1 482.7,308.1 484.3,306.1 485.9,307.0 487.4,309.0 489.0,307.8 490.6,307.9 492.2,307.7 493.7,309.9 495.3,308.8 496.9,310.8 498.5,310.2 500.0,309.6 501.6,312.2 503.2,312.4 504.8,312.3 506.4,312.3 508.0,313.1 509.5,314.1 511.1,312.4 512.7,312.9 514.4,314.8 516.2,314.3 517.9,316.4 519.6,316.5 521.3,316.1 523.1,315.6" fill="none" stroke="#a0a0a4" stroke-width="1.9" stroke-dasharray="1.9 3.6"/>
<polyline points="153.6,431.3 155.2,432.2 156.9,431.8 158.5,432.5 160.1,432.6 161.7,431.1 163.3,431.0 165.0,433.3 166.6,431.8 168.2,431.7 169.8,433.9 171.4,432.5 173.0,433.6 174.7,432.6 176.3,433.1 177.9,431.8 179.5,433.2 181.1,433.9 182.8,433.0 184.4,433.6 186.0,433.5 187.7,430.9 189.3,432.1 191.0,430.8 192.7,429.1 194.3,427.5 196.0,429.0 197.2,426.6 198.3,425.9 199.5,425.1 200.7,423.3 201.8,422.5 203.0,419.7 204.2,419.4 205.4,417.0 206.6,417.0 207.8,415.5 209.0,411.9 210.0,410.6 211.0,409.4 212.0,410.0 213.0,407.1 214.0,406.2 215.0,403.9 216.0,403.0 216.7,401.1 217.3,399.4 218.0,398.5 218.6,396.9 219.3,396.2 220.0,394.0 220.6,393.2 221.3,391.4 222.0,390.2 222.6,387.7 223.3,384.7 223.9,385.1 224.6,383.8 225.3,382.1 226.0,379.6 226.7,378.5 227.4,375.6 228.2,375.8 228.9,373.5 229.6,371.2 230.3,369.0 231.0,369.7 231.7,368.6 232.4,364.5 233.2,365.0 233.9,362.3 234.6,360.1 235.3,359.0 236.0,358.8 236.7,357.5 237.4,353.6 238.1,353.7 238.8,350.6 239.5,350.9 240.2,348.3 240.8,348.3 241.5,347.0 242.2,344.2 242.9,344.0 243.6,340.5 244.3,338.4 245.0,338.3 245.8,335.2 246.6,334.2 247.4,333.4 248.2,332.5 249.0,329.8 249.9,328.0 250.7,328.8 251.5,325.8 252.3,326.2 253.1,324.6 253.9,321.7 254.4,320.3 254.9,318.9 255.5,317.6 256.0,315.9 256.5,314.2 257.0,312.7 257.6,312.0 258.1,309.2 258.6,307.4 259.1,306.6 259.6,303.7 260.2,302.2 260.7,302.5 261.2,299.7 261.8,298.2 262.3,295.1 262.9,294.6 263.4,293.5 263.9,290.3 264.5,290.4 265.1,288.9 265.6,285.7 266.1,285.7 266.7,283.7 267.2,282.7 267.8,280.2 268.4,279.6 268.9,278.1 269.5,274.5 270.0,273.0 270.6,273.2 271.1,272.4 271.6,268.8 272.1,267.8 272.7,266.6 273.2,264.3 273.7,262.8 274.2,261.1 274.7,259.7 275.2,258.7 275.8,256.3 276.3,255.0 276.8,254.5 277.3,250.8 277.8,250.8 278.3,249.7 278.8,246.9 279.4,245.1 279.9,245.1 280.4,242.0 281.0,240.2 281.6,239.3 282.2,238.5 282.9,235.2 283.5,234.2 284.1,232.6 284.7,232.4 285.3,229.7 286.3,229.5 287.2,226.1 288.2,225.2 289.1,224.7 290.1,223.9 291.0,221.3 292.0,219.2 293.4,218.0 294.8,218.2 296.2,216.3 297.6,217.1 299.0,216.3 300.4,213.5 301.8,212.9 303.2,213.4 304.6,212.0 306.0,211.6 307.4,209.4 308.8,207.8 310.2,207.3 311.6,207.8 313.2,205.7 314.7,205.2 316.3,204.7 317.8,204.0 319.4,203.3 321.0,204.0 322.5,201.2 324.1,200.1 325.7,202.0 327.2,201.1 328.8,200.7 330.3,198.5 331.9,199.3 333.4,198.6 335.0,196.0 336.5,196.8 338.1,196.5 339.6,195.4 341.2,194.4 342.7,193.1 344.3,192.6 345.8,191.7 347.4,190.6 348.9,191.5 350.5,190.0 352.0,190.9 353.7,188.8 355.3,191.3 357.0,190.8 358.7,191.5 360.3,191.5 362.0,191.6 363.7,190.8 365.3,189.3 367.0,191.4 368.7,189.9 370.3,190.4 372.0,191.5 373.5,191.5 375.1,191.7 376.6,193.6 378.2,193.2 379.7,192.9 381.2,193.1 382.8,195.2 384.3,194.6 385.8,195.9 387.4,195.2 388.9,195.2 390.5,196.6 392.0,197.9 393.6,196.7 395.2,199.1 396.9,200.1 398.5,200.4 400.1,201.0 401.8,199.4 403.4,201.7 405.0,203.0 406.2,201.8 407.5,203.5 408.8,204.6 410.0,206.4 411.2,207.2 412.5,208.4 413.8,210.4 415.0,209.3 416.2,210.5 417.5,211.8 418.8,212.9 420.0,213.8 421.1,217.6 422.2,218.6 423.2,217.8 424.3,220.2 425.4,221.0 426.5,222.3 427.5,223.7 428.6,225.9 429.7,227.0 430.8,227.7 431.8,228.5 432.9,230.2 434.0,230.9 435.1,233.4 436.2,235.1 437.2,235.4 438.3,235.8 439.4,237.3 440.5,239.1 441.6,241.0 442.7,242.8 443.8,242.9 444.8,245.3 445.9,246.1 447.0,246.8 448.5,247.4 450.0,248.5 451.5,249.8 453.0,249.8 454.5,251.3 456.0,251.4 457.5,251.5 459.0,253.1 460.5,254.3 462.0,253.3 463.5,255.0 465.0,255.8 466.7,257.5 468.3,258.1 470.0,256.9 471.7,258.8 473.3,258.9 475.0,257.8 476.7,258.8 478.3,258.3 480.0,260.6 481.7,260.6 483.3,261.7 485.0,261.8 486.7,261.8 488.3,262.3 490.0,262.2 491.7,261.2 493.3,262.9 495.0,261.6 496.7,262.3 498.3,264.4 500.0,262.7 501.7,263.2 503.3,263.5 505.0,266.1 506.6,264.4 508.3,264.3 509.9,267.0 511.6,265.3 513.2,267.6 514.9,267.5 516.5,268.3 518.2,268.9 519.8,268.2 521.5,269.2 523.1,267.4" fill="none" stroke="#8f8ff0" stroke-width="1.9" stroke-dasharray="1.9 3.6"/>
<polyline points="153.6,438.4 155.2,437.1 156.9,437.9 158.5,438.0 160.1,436.7 161.7,436.4 163.3,438.0 165.0,436.7 166.6,437.5 168.2,439.0 169.8,439.1 171.4,437.1 173.0,437.1 174.7,437.6 176.3,439.3 177.9,437.2 179.5,437.8 181.1,437.6 182.8,437.8 184.4,439.0 186.0,438.1 187.7,438.4 189.3,439.0 191.0,438.6 192.7,437.4 194.3,438.1 196.0,437.2 197.6,436.9 199.2,434.3 200.8,433.6 202.4,433.2 204.0,433.2 205.5,431.3 207.0,429.9 208.5,428.3 210.0,427.4 211.0,425.9 212.0,426.7 213.0,425.1 214.0,423.8 215.0,421.4 216.0,420.6 217.2,418.3 218.5,417.6 219.8,415.5 221.0,415.1 222.2,413.5 223.5,411.9 224.6,412.9 225.8,409.4 226.9,410.1 228.0,408.6 229.1,405.6 230.2,405.5 231.4,405.6 232.5,404.4 233.6,401.9 234.8,401.3 235.9,399.8 237.0,397.4 237.9,396.8 238.8,395.6 239.8,393.7 240.7,393.6 241.6,391.2 242.5,390.7 243.4,387.4 244.3,387.2 245.2,384.7 246.2,385.1 247.1,384.4 248.0,382.1 248.6,380.6 249.2,379.1 249.8,376.4 250.4,375.3 251.0,374.2 251.6,372.8 252.2,370.5 252.8,369.1 253.4,367.1 254.0,366.2 254.4,364.9 254.9,362.3 255.3,361.7 255.8,360.6 256.2,358.1 256.7,357.7 257.1,354.3 257.6,354.4 258.1,350.7 258.5,349.6 258.8,349.3 259.1,345.5 259.4,345.5 259.7,344.6 260.0,343.2 260.3,340.9 260.6,338.4 260.9,336.7 261.2,336.0 261.5,332.8 261.8,331.1 262.1,331.9 262.4,329.6 262.7,326.7 263.0,325.8 263.6,323.9 264.2,324.0 264.8,320.9 265.3,320.6 265.9,319.2 266.5,316.5 267.1,314.8 267.7,314.1 268.2,312.2 268.8,311.3 269.4,309.0 270.0,308.8 270.8,306.3 271.6,304.0 272.4,304.3 273.2,303.1 274.1,301.0 274.9,299.1 275.7,298.5 276.5,297.2 277.6,293.1 278.7,293.0 279.8,290.2 280.8,289.5 281.9,287.8 283.0,286.9 284.2,286.3 285.5,285.7 286.7,282.8 287.9,281.0 289.2,282.6 290.4,280.8 291.5,279.0 292.7,276.6 293.8,275.2 294.9,276.5 296.0,274.2 297.2,274.0 298.3,272.6 299.4,271.3 300.6,270.3 301.7,267.6 303.2,266.8 304.6,266.6 306.1,266.8 307.6,266.1 309.1,265.2 310.5,264.0 312.0,262.9 313.6,261.7 315.2,262.5 316.8,262.0 318.5,261.2 320.1,261.3 321.7,261.5 323.3,260.9 324.9,258.2 326.5,258.3 328.0,258.8 329.6,258.6 331.2,257.1 332.8,258.5 334.4,256.8 336.0,257.2 337.5,254.8 339.1,255.1 340.7,254.0 342.3,255.7 343.9,254.5 345.6,255.3 347.2,253.9 348.8,252.7 350.4,252.3 352.1,252.0 353.7,251.1 355.3,251.3 356.9,253.4 358.6,253.0 360.2,253.9 361.8,255.2 363.4,254.5 365.1,255.5 366.7,255.7 368.3,256.0 369.8,257.3 371.4,256.0 373.0,257.2 374.6,256.7 376.1,258.6 377.7,257.9 379.3,260.0 380.9,259.0 382.4,259.8 384.0,259.8 385.6,260.9 387.3,260.8 388.9,260.9 390.5,259.4 392.1,260.0 393.8,261.9 395.4,261.3 397.1,263.0 398.8,262.1 400.5,262.8 402.3,262.7 404.0,263.5 405.7,262.7 407.2,264.7 408.8,264.3 410.3,265.0 411.8,265.7 413.4,266.7 415.0,269.1 416.7,269.1 418.3,268.0 419.9,268.6 421.5,270.4 423.1,271.3 424.8,271.4 426.4,271.0 428.0,272.3 429.6,274.2 431.2,274.0 432.8,274.4 434.4,273.0 436.0,274.3 437.6,273.2 439.2,273.6 440.8,275.6 442.4,273.7 444.0,274.1 445.6,274.0 447.2,276.0 448.8,275.7 450.4,275.6 452.0,276.5 453.6,276.0 455.1,277.9 456.7,278.2 458.3,277.4 459.9,277.9 461.4,279.4 463.0,279.7 464.6,281.3 466.2,281.6 467.7,282.5 469.3,282.7 470.9,282.1 472.5,283.7 474.0,284.7 475.6,284.1 477.2,284.6 478.8,283.6 480.4,283.6 482.0,284.8 483.5,285.5 485.1,286.2 486.7,285.8 488.4,286.2 490.2,285.1 491.9,285.1 493.6,285.5 495.4,286.2 497.1,286.2 498.8,286.1 500.5,286.8 502.3,287.0 504.0,288.5 505.6,289.2 507.2,289.7 508.8,289.3 510.4,287.6 512.0,288.6 513.6,291.0 515.2,290.5 516.8,291.3 518.4,289.8 520.0,290.3 521.6,290.2 523.2,291.7" fill="none" stroke="#8f8ff0" stroke-width="1.9" stroke-dasharray="1.9 3.6"/>
<polyline points="153.6,429.3 155.2,429.0 156.9,429.9 158.5,429.2 160.1,429.0 161.7,430.0 163.3,431.5 165.0,431.2 166.6,431.2 168.2,429.7 169.8,430.6 171.4,429.9 173.0,429.7 174.7,429.6 176.3,429.9 177.9,432.0 179.5,431.7 181.1,431.7 182.8,431.7 184.4,430.1 186.0,430.5 186.6,429.6 187.2,428.0 187.8,426.6 188.4,424.9 189.0,420.8 189.4,420.5 189.8,419.0 190.1,416.8 190.5,414.1 190.9,413.2 191.2,410.4 191.6,411.0 192.0,409.0 192.3,406.5 192.6,404.2 192.9,404.3 193.2,401.8 193.5,401.1 193.8,399.4 194.1,396.8 194.4,395.0 194.7,393.9 195.0,391.8 195.3,389.5 195.6,388.3 195.9,388.1 196.2,384.4 196.5,382.8 196.8,382.8 197.1,380.3 197.4,379.4 197.6,377.6 197.9,375.7 198.2,375.9 198.5,372.1 198.8,371.1 199.1,368.9 199.4,368.5 199.7,366.0 200.0,364.6 200.2,364.1 200.4,361.3 200.6,360.4 200.8,359.7 201.0,355.9 201.2,354.2 201.4,353.0 201.6,352.9 201.8,350.9 202.0,348.3 202.2,346.9 202.4,344.9 202.6,344.1 202.8,341.3 203.0,341.6 203.2,340.5 203.4,339.1 203.6,336.9 203.8,335.9 204.0,331.7 204.2,330.8 204.4,331.1 204.6,329.0 204.8,326.3 205.0,326.2 205.1,323.6 205.3,322.5 205.4,319.3 205.6,317.4 205.7,316.4 205.8,313.8 206.0,312.8 206.1,312.7 206.3,309.3 206.4,306.7 206.5,305.1 206.7,303.8 206.8,303.8 207.0,300.9 207.1,299.0 207.5,296.8 207.9,297.7 208.3,294.5 208.7,292.2 209.1,290.2 209.6,288.6 210.0,287.2 210.4,287.0 210.8,283.9 211.2,282.0 211.6,281.6 212.0,279.3 212.4,279.8 212.9,275.7 213.3,275.3 213.8,274.4 214.2,271.7 214.6,271.8 215.1,268.7 215.5,266.5 216.0,265.3 216.4,262.7 216.8,262.2 217.2,260.1 217.6,260.4 218.0,258.6 218.4,256.1 218.8,253.2 219.2,252.3 219.6,250.7 219.9,249.0 220.3,247.5 220.7,247.7 221.1,244.1 221.5,242.2 221.9,243.1 222.3,240.5 222.7,240.1 223.1,236.9 223.5,236.7 223.8,234.4 224.0,233.2 224.3,231.5 224.6,229.3 224.9,226.5 225.1,225.3 225.4,225.6 225.7,224.1 225.9,222.5 226.2,219.3 226.5,218.6 226.8,217.4 227.0,215.4 227.3,214.3 227.6,211.9 227.9,210.7 228.1,209.2 228.4,206.5 228.8,206.5 229.2,204.8 229.5,200.6 229.9,201.3 230.4,199.7 230.8,197.3 231.3,194.0 231.8,194.8 232.2,191.1 232.7,191.9 233.2,189.5 233.7,186.2 234.1,184.9 234.6,184.7 235.4,183.0 236.2,182.1 236.9,181.1 237.7,177.7 238.5,175.6 239.3,176.7 240.1,172.7 240.9,173.7 241.7,170.1 242.4,170.6 243.2,169.1 244.0,167.9 245.2,165.8 246.4,165.5 247.6,162.4 248.8,162.5 249.9,160.4 251.1,160.8 252.3,159.3 253.5,157.2 254.9,156.2 256.2,153.7 257.6,152.5 258.9,152.9 260.3,151.5 261.6,151.4 263.0,149.5 264.5,149.6 266.0,151.6 266.5,154.3 267.1,155.1 267.6,155.2 268.1,159.1 268.6,160.6 269.2,160.0 269.7,162.8 270.3,160.7 270.9,160.2 271.5,157.2 272.1,155.3 272.7,154.4 273.3,154.1 273.9,150.0 274.5,148.4 275.1,148.1 276.7,148.4 278.3,146.9 279.9,146.3 281.4,147.0 283.0,146.3 284.6,143.9 286.3,146.7 288.0,145.3 289.6,146.1 291.3,148.1 293.0,147.4 294.6,149.0 296.3,147.8 298.0,150.2 299.8,148.5 301.7,148.7 303.5,149.8 305.3,149.6 307.2,150.4 309.0,151.6 310.5,151.8 312.0,150.5 313.5,152.0 315.0,153.4 316.5,153.9 318.0,155.2 319.5,155.3 321.0,154.8 322.8,155.1 324.7,156.5 326.5,154.9 328.3,155.8 330.2,156.2 332.0,155.0 333.6,154.2 335.1,153.1 336.7,151.4 338.3,152.2 339.8,150.0 341.4,150.4 342.6,149.9 343.8,152.6 344.9,153.6 346.1,154.3 347.3,155.0 348.5,155.4 349.6,158.4 350.8,158.4 352.0,160.5 353.7,159.5 355.3,159.9 357.0,160.6 358.6,163.0 360.3,161.8 362.0,163.2 363.8,161.2 365.5,161.2 367.2,159.9 368.9,160.1 370.7,158.0 372.4,158.3 373.7,160.7 375.1,159.5 376.4,161.8 377.7,161.8 379.0,162.6 380.4,162.8 381.7,163.7 383.0,167.2 384.3,167.8 385.7,168.6 387.0,169.6 388.7,170.5 390.3,168.7 392.0,170.4 393.6,170.6 395.3,171.4 397.0,172.9 398.6,172.9 400.3,173.9 401.9,172.0 403.6,174.0 404.9,175.4 406.2,176.8 407.4,177.8 408.7,179.6 410.0,179.4 410.3,182.9 410.5,183.1 410.8,185.2 411.0,187.7 411.3,188.9 411.5,189.4 411.8,190.8 413.2,192.1 414.6,193.8 416.0,195.8 417.4,196.5 418.8,196.0 420.2,196.9 421.6,199.0 423.0,198.5 424.4,199.8 425.8,199.6 427.2,201.0 428.6,202.9 430.0,204.3 431.4,205.0 432.7,205.2 434.0,207.8 435.4,207.8 436.7,207.4 438.0,208.1 439.4,211.5 440.7,212.5 442.0,213.2 443.3,213.3 444.6,213.4 446.0,213.7 447.3,215.0 448.6,215.9 450.0,218.8 451.3,219.6 452.6,220.2 454.0,219.2 455.5,220.2 456.9,221.1 458.4,223.7 459.8,222.3 461.3,224.8 462.7,225.3 464.2,225.7 465.6,227.6 467.1,226.4 468.5,227.9 470.0,227.7 471.4,228.3 472.9,228.9 474.3,230.4 475.8,230.7 477.2,231.3 478.8,234.3 480.5,232.8 482.1,234.9 483.7,234.8 485.4,235.3 487.0,235.5 488.6,236.8 490.3,237.0 491.9,237.0 493.5,237.0 495.2,237.8 496.8,238.3 498.4,238.3 500.1,238.6 501.7,238.0 503.3,240.3 505.0,239.7 506.6,238.9 508.3,239.5 509.9,241.8 511.6,240.5 513.2,241.2 514.9,242.4 516.5,243.2 518.2,242.1 519.8,242.6 521.5,243.1 523.1,242.3" fill="none" stroke="#f7b4b4" stroke-width="1.9" stroke-dasharray="1.9 3.6"/>
<polyline points="153.6,438.3 155.2,438.1 156.9,437.7 158.5,436.3 160.1,436.6 161.7,437.7 163.3,438.0 165.0,435.8 166.6,436.3 168.2,438.3 169.8,436.2 171.4,437.7 173.0,436.8 174.7,437.7 176.3,438.4 177.9,437.6 179.5,437.1 181.1,436.9 182.8,437.8 184.4,437.8 186.0,437.2 187.5,436.5 189.0,435.9 190.5,434.2 192.0,433.1 192.7,432.6 193.3,429.8 194.0,429.6 194.7,428.6 195.3,427.1 196.0,424.0 196.7,422.9 197.3,422.7 198.0,419.6 198.4,419.7 198.8,415.8 199.2,416.0 199.7,412.0 200.1,412.1 200.5,410.9 200.9,408.5 201.3,407.0 201.8,406.2 202.2,404.7 202.6,400.8 203.0,400.1 203.4,397.1 203.8,396.5 204.1,394.3 204.5,392.8 204.9,392.5 205.2,389.5 205.6,388.1 206.0,386.1 206.4,386.8 206.8,383.7 207.1,381.6 207.5,381.6 207.9,380.3 208.2,378.5 208.6,376.7 209.0,375.1 209.3,374.0 209.6,371.3 209.9,371.2 210.3,369.2 210.6,368.1 210.9,366.6 211.2,364.9 211.5,362.4 211.8,360.9 212.2,359.9 212.5,357.9 212.8,354.7 213.1,355.6 213.4,352.1 213.7,351.3 214.1,349.6 214.4,347.0 214.7,346.8 215.0,345.3 215.4,344.3 215.7,342.1 216.1,339.7 216.4,338.8 216.8,338.3 217.1,335.9 217.5,334.8 217.8,330.9 218.2,331.2 218.5,328.3 218.9,326.6 219.2,325.5 219.6,323.5 219.9,321.6 220.3,320.4 220.6,318.8 221.0,317.3 221.6,317.3 222.1,313.7 222.7,312.4 223.3,310.5 223.9,310.2 224.4,307.8 225.0,307.1 225.6,304.7 226.1,303.0 226.7,302.3 227.3,299.5 227.9,300.2 228.4,297.7 229.0,295.7 229.5,294.5 229.9,294.1 230.4,291.2 230.9,289.3 231.3,287.2 231.8,286.1 232.3,285.6 232.7,283.5 233.2,281.0 233.7,281.1 234.1,277.4 234.6,276.4 235.1,276.0 235.5,274.8 236.0,271.9 236.8,269.2 237.5,269.3 238.2,267.5 239.0,265.0 239.8,264.5 240.5,264.6 241.2,260.8 242.0,259.8 242.8,258.3 243.5,258.7 244.2,255.9 245.0,255.5 246.1,254.3 247.2,251.2 248.3,251.2 249.4,249.0 250.6,249.7 251.7,247.6 252.8,246.1 253.9,246.1 255.0,244.9 256.4,241.9 257.9,241.2 259.3,240.9 260.7,240.0 262.1,239.5 263.6,238.7 265.0,239.3 266.7,237.8 268.3,238.0 270.0,236.3 271.7,234.6 273.3,234.9 275.0,233.0 276.3,233.3 277.7,231.2 279.0,232.5 280.3,229.8 281.6,230.5 283.0,227.7 284.3,226.8 285.9,226.7 287.6,228.1 289.2,227.9 290.8,227.4 292.4,226.7 294.1,225.3 295.7,225.4 297.3,224.6 298.9,226.8 300.6,224.2 302.2,225.5 303.8,223.2 305.4,223.7 307.1,224.2 308.7,222.7 310.3,222.1 311.9,224.9 313.6,223.8 315.2,223.5 316.8,226.0 318.4,227.4 320.1,226.7 321.7,225.8 323.3,227.4 325.0,228.0 326.8,227.1 328.5,227.6 330.3,228.6 332.0,228.5 333.7,229.1 335.5,229.5 337.2,228.4 339.0,229.8 340.7,227.4 342.1,229.4 343.6,230.7 345.0,232.3 346.4,231.9 347.9,232.7 349.3,234.8 350.7,234.5 352.1,234.2 353.5,236.1 354.9,236.5 356.3,238.4 358.0,238.5 359.8,235.9 361.5,236.2 363.2,237.4 365.0,236.7 366.7,236.2 368.4,235.1 370.1,236.7 371.9,236.4 373.6,236.3 375.3,235.5 377.0,236.3 378.8,235.4 380.5,235.7 382.3,236.1 384.0,236.8 385.6,237.8 387.2,238.8 388.9,237.6 390.5,238.0 392.1,237.7 393.8,238.0 395.4,235.9 397.0,236.3 398.6,237.7 400.2,236.2 401.9,237.5 403.5,236.9 405.1,236.4 406.8,236.7 408.4,237.4 410.0,236.7 411.2,240.1 412.5,239.6 413.8,240.3 415.0,242.8 416.2,241.6 417.5,244.7 418.8,244.9 420.0,244.9 421.4,246.6 422.9,249.1 424.3,247.3 425.7,248.8 427.1,249.4 428.6,251.4 430.0,251.2 431.6,253.7 433.2,253.0 434.8,255.4 436.4,253.7 438.0,254.7 439.6,254.9 441.2,255.6 442.8,256.7 444.4,258.5 446.0,259.1 447.2,261.0 448.4,261.1 449.6,263.5 450.8,266.0 452.0,265.5 453.7,265.8 455.3,266.2 457.0,269.0 458.7,268.6 460.3,268.8 462.0,269.3 463.7,268.7 465.3,269.7 467.0,271.6 468.6,270.6 470.2,271.5 471.8,272.9 473.3,271.1 474.9,272.2 476.5,273.2 478.1,273.4 479.7,273.9 481.2,274.4 482.8,273.7 484.4,273.0 486.0,274.0 487.6,275.4 489.3,273.5 490.9,274.0 492.5,273.9 494.2,276.0 495.8,274.0 497.5,274.3 499.1,275.8 500.7,276.3 502.4,275.6 504.0,276.7 505.6,276.9 507.2,276.3 508.8,275.7 510.4,277.8 512.0,277.9 513.6,279.1 515.2,278.7 516.8,277.2 518.4,277.9 520.0,278.5 521.6,280.0 523.2,279.2" fill="none" stroke="#f7b4b4" stroke-width="1.9" stroke-dasharray="1.9 3.6"/>
</g>
<g font-size="29" text-anchor="end">
<text x="134.5" y="446.0">0</text>
<text id="one1" x="134.5" y="323.4"> 00</text>
<text x="134.5" y="200.9">200</text>
<text x="134.5" y="78.3">300</text>
</g>
<g font-size="29" text-anchor="middle">
<text x="225.8" y="479.5">20</text>
<text x="300.6" y="479.5">40</text>
<text x="375.4" y="479.5">60</text>
<text x="450.2" y="479.5">80</text>
<text id="one2" x="525.0" y="479.5"> 00</text>
</g>
<text x="336" y="515" font-size="32" text-anchor="middle">Time (s)</text>
<g transform="translate(65.4,335.4) rotate(-90)" font-size="33"><path fill-rule="evenodd" d="M0.00,0.00 L18.40,0.00 L9.49,-21.50 Z M1.94,-1.30 L8.54,-16.24 L14.72,-1.30 Z"/><text x="18.39" y="0">F/F<tspan font-size="23" dy="6.5">0</tspan></text><text x="90.85" y="0">(</text><text x="102.51" y="0">%</text><text x="134.80" y="0">)</text></g>
<polygon points="181.4,452.6 169.4,482.6 193.4,482.6" fill="#000"/>
<rect x="179.2" y="481" width="4.6" height="31" fill="#000"/>
<text x="180.5" y="541" font-size="28.5" letter-spacing="0.5" text-anchor="middle">Touch</text>
<rect x="553" y="117.0" width="42" height="6" fill="#000"/>
<rect x="553" y="162.2" width="42" height="6" fill="#ff0000"/>
<rect x="553" y="205.0" width="42" height="6" fill="#0000c8"/>
<rect x="553" y="271.8" width="42" height="6" fill="#007800"/>
<g font-size="32">
<text x="618" y="131">WT</text>
<text x="619" y="176" font-style="italic" letter-spacing="0.75">pkd-2(sy606)</text>
<text id="one3" x="619" y="219" font-style="italic" letter-spacing="0.75">osm-9(ky 0)</text>
<text x="619" y="266" font-style="italic" letter-spacing="0.75">pkd-2(sy606);</text>
<text id="one4" x="619" y="306" font-style="italic" letter-spacing="0.75">lov- (sy582)</text>
</g>
<g stroke="#000" stroke-width="2" fill="none">
<line x1="1003.3" y1="46.5" x2="1003.3" y2="440"/>
<line x1="992" y1="439.2" x2="1003.3" y2="439.2"/>
<line x1="992" y1="308.7" x2="1003.3" y2="308.7"/>
<line x1="992" y1="178.3" x2="1003.3" y2="178.3"/>
<line x1="992" y1="47.8" x2="1003.3" y2="47.8"/>
<line x1="992" y1="439.4" x2="1491" y2="439.4"/>
</g>
<rect x="1023.7" y="169.6" width="80.6" height="269.8" fill="#000"/>
<line x1="1064.0" y1="169.6" x2="1064.0" y2="148.3" stroke="#000" stroke-width="3.7"/>
<line x1="1043.6" y1="148.7" x2="1084.4" y2="148.7" stroke="#000" stroke-width="3.8"/>
<line x1="1064.0" y1="439.4" x2="1064.0" y2="450" stroke="#000" stroke-width="2"/>
<text id="one5" x="1064.0" y="432" font-size="31" fill="#fff" text-anchor="middle"> 3</text>
<rect x="1145.1" y="125.6" width="80.6" height="313.8" fill="#ff0000"/>
<line x1="1185.4" y1="125.6" x2="1185.4" y2="80.6" stroke="#000" stroke-width="3.7"/>
<line x1="1165.0" y1="81.0" x2="1205.8" y2="81.0" stroke="#000" stroke-width="3.8"/>
<line x1="1185.4" y1="439.4" x2="1185.4" y2="450" stroke="#000" stroke-width="2"/>
<text id="one6" x="1185.4" y="432" font-size="31" fill="#fff" text-anchor="middle"> 3</text>
<rect x="1267.2" y="183.9" width="80.6" height="255.5" fill="#0000c8"/>
<line x1="1307.5" y1="183.9" x2="1307.5" y2="147.8" stroke="#000" stroke-width="3.7"/>
<line x1="1287.1" y1="148.2" x2="1327.9" y2="148.2" stroke="#000" stroke-width="3.8"/>
<line x1="1307.5" y1="439.4" x2="1307.5" y2="450" stroke="#000" stroke-width="2"/>
<text id="one7" x="1307.5" y="432" font-size="31" fill="#fff" text-anchor="middle"> 2</text>
<rect x="1388.7" y="134.7" width="80.6" height="304.7" fill="#007800"/>
<line x1="1429.0" y1="134.7" x2="1429.0" y2="89.5" stroke="#000" stroke-width="3.7"/>
<line x1="1408.6" y1="89.9" x2="1449.4" y2="89.9" stroke="#000" stroke-width="3.8"/>
<line x1="1429.0" y1="439.4" x2="1429.0" y2="450" stroke="#000" stroke-width="2"/>
<text id="one8" x="1429.0" y="432" font-size="31" fill="#fff" text-anchor="middle"> 2</text>
<g font-size="29" text-anchor="end">
<text x="986.5" y="449.5">0</text>
<text id="one9" x="986.5" y="319.0"> 00</text>
<text x="986.5" y="188.6">200</text>
<text x="986.5" y="58.1">300</text>
</g>
<g transform="translate(914.6,388.5) rotate(-90)" font-size="31.5"><text x="-0.21" y="0" font-size="30.6">Maximum</text><path fill-rule="evenodd" d="M144.90,0.00 L162.50,0.00 L153.98,-20.50 Z M146.84,-1.30 L153.02,-15.25 L158.82,-1.30 Z"/><text x="163.52" y="0">F/F<tspan font-size="22" dy="6.5">0</tspan></text><text x="235.35" y="0">(</text><text x="247.67" y="0">%</text><text x="277.61" y="0">)</text></g>
<g font-size="29.5" text-anchor="end">
<text transform="translate(1069.5,475.0) rotate(-45)">WT</text>
<text transform="translate(1190.9,475.0) rotate(-45)">pkd-2(sy606)</text>
<text id="one10" transform="translate(1313.0,475.0) rotate(-45)">osm-9(ky 0)</text>
<text id="one11" transform="translate(1434.5,475.0) rotate(-45)">pkd-2(sy606);lov- (sy582)</text>
</g>
<g stroke="#000" stroke-width="2" fill="none">
<line x1="148" y1="720.5" x2="148" y2="1114"/>
<line x1="137" y1="1113.2" x2="148" y2="1113.2"/>
<line x1="137" y1="1034.8" x2="148" y2="1034.8"/>
<line x1="137" y1="956.4" x2="148" y2="956.4"/>
<line x1="137" y1="878.0" x2="148" y2="878.0"/>
<line x1="137" y1="799.6" x2="148" y2="799.6"/>
<line x1="137" y1="721.2" x2="148" y2="721.2"/>
<line x1="137" y1="1113.3" x2="649" y2="1113.3"/>
</g>
<rect x="169.0" y="914.2" width="83" height="199.1" fill="#000"/>
<line x1="210.5" y1="914.2" x2="210.5" y2="880.3" stroke="#000" stroke-width="3.7"/>
<line x1="189.7" y1="880.7" x2="231.3" y2="880.7" stroke="#000" stroke-width="3.8"/>
<line x1="210.5" y1="1113.3" x2="210.5" y2="1124.5" stroke="#000" stroke-width="2"/>
<text id="one12" x="210.5" y="1106" font-size="31" fill="#fff" text-anchor="middle"> 3</text>
<rect x="293.5" y="936.8" width="83" height="176.5" fill="#ff0000"/>
<line x1="335.0" y1="936.8" x2="335.0" y2="908.0" stroke="#000" stroke-width="3.7"/>
<line x1="314.2" y1="908.4" x2="355.8" y2="908.4" stroke="#000" stroke-width="3.8"/>
<line x1="335.0" y1="1113.3" x2="335.0" y2="1124.5" stroke="#000" stroke-width="2"/>
<text id="one13" x="335.0" y="1106" font-size="31" fill="#fff" text-anchor="middle"> 3</text>
<rect x="418.7" y="804.0" width="83" height="309.3" fill="#0000c8"/>
<line x1="460.2" y1="804.0" x2="460.2" y2="769.0" stroke="#000" stroke-width="3.7"/>
<line x1="439.4" y1="769.4" x2="481.0" y2="769.4" stroke="#000" stroke-width="3.8"/>
<line x1="460.2" y1="1113.3" x2="460.2" y2="1124.5" stroke="#000" stroke-width="2"/>
<text id="one14" x="460.2" y="1106" font-size="31" fill="#fff" text-anchor="middle"> 2</text>
<rect x="543.5" y="928.8" width="83" height="184.5" fill="#007800"/>
<line x1="585.0" y1="928.8" x2="585.0" y2="911.1" stroke="#000" stroke-width="3.7"/>
<line x1="564.2" y1="911.5" x2="605.8" y2="911.5" stroke="#000" stroke-width="3.8"/>
<line x1="585.0" y1="1113.3" x2="585.0" y2="1124.5" stroke="#000" stroke-width="2"/>
<text id="one15" x="585.0" y="1106" font-size="31" fill="#fff" text-anchor="middle"> 2</text>
<g font-size="29" text-anchor="end">
<text x="131.5" y="1123.5">0</text>
<text x="131.5" y="1045.1">5</text>
<text id="one16" x="131.5" y="966.7"> 0</text>
<text id="one17" x="131.5" y="888.3"> 5</text>
<text x="131.5" y="809.9">20</text>
<text x="131.5" y="731.5">25</text>
</g>
<text transform="translate(65,917.5) rotate(-90)" font-size="32" text-anchor="middle">Time (s)</text>
<polyline points="195.6,735.5 195.6,725.5 461.5,725.5 461.5,735.5" fill="none" stroke="#000" stroke-width="1.8"/>
<text x="322" y="727" font-size="33" text-anchor="middle">*</text>
<g font-size="29.5" text-anchor="end">
<text transform="translate(216.5,1148.5) rotate(-45)">WT</text>
<text transform="translate(341.0,1148.5) rotate(-45)">pkd-2(sy606)</text>
<text id="one18" transform="translate(466.2,1148.5) rotate(-45)">osm-9(ky 0)</text>
<text id="one19" transform="translate(591.0,1148.5) rotate(-45)">pkd-2(sy606);lov- (sy582)</text>
</g>
<path transform="translate(86.11,323.40) scale(0.01416,-0.01416)" d="M763 0L583 0L583 1147Q518 1085 412 1023Q306 961 221 930L221 1104Q366 1172 475 1269Q584 1366 629 1466L763 1466Z" fill="rgb(0, 0, 0)" stroke="rgb(0, 0, 0)" stroke-width="24.7"/>
<path transform="translate(500.80,479.50) scale(0.01416,-0.01416)" d="M763 0L583 0L583 1147Q518 1085 412 1023Q306 961 221 930L221 1104Q366 1172 475 1269Q584 1366 629 1466L763 1466Z" fill="rgb(0, 0, 0)" stroke="rgb(0, 0, 0)" stroke-width="24.7"/>
<path transform="translate(756.56,219.00) scale(0.01562,-0.01562) translate(-146,0) skewX(11.3)" d="M763 0L583 0L583 1147Q518 1085 412 1023Q306 961 221 930L221 1104Q366 1172 475 1269Q584 1366 629 1466L763 1466Z" fill="rgb(0, 0, 0)"/>
<path transform="translate(673.56,306.00) scale(0.01562,-0.01562) translate(-146,0) skewX(11.3)" d="M763 0L583 0L583 1147Q518 1085 412 1023Q306 961 221 930L221 1104Q366 1172 475 1269Q584 1366 629 1466L763 1466Z" fill="rgb(0, 0, 0)"/>
<path transform="translate(1046.76,432.00) scale(0.01514,-0.01514)" d="M763 0L583 0L583 1147Q518 1085 412 1023Q306 961 221 930L221 1104Q366 1172 475 1269Q584 1366 629 1466L763 1466Z" fill="rgb(255, 255, 255)" stroke="rgb(255, 255, 255)" stroke-width="23.1"/>
<path transform="translate(1168.16,432.00) scale(0.01514,-0.01514)" d="M763 0L583 0L583 1147Q518 1085 412 1023Q306 961 221 930L221 1104Q366 1172 475 1269Q584 1366 629 1466L763 1466Z" fill="rgb(255, 255, 255)" stroke="rgb(255, 255, 255)" stroke-width="23.1"/>
<path transform="translate(1290.26,432.00) scale(0.01514,-0.01514)" d="M763 0L583 0L583 1147Q518 1085 412 1023Q306 961 221 930L221 1104Q366 1172 475 1269Q584 1366 629 1466L763 1466Z" fill="rgb(255, 255, 255)" stroke="rgb(255, 255, 255)" stroke-width="23.1"/>
<path transform="translate(1411.76,432.00) scale(0.01514,-0.01514)" d="M763 0L583 0L583 1147Q518 1085 412 1023Q306 961 221 930L221 1104Q366 1172 475 1269Q584 1366 629 1466L763 1466Z" fill="rgb(255, 255, 255)" stroke="rgb(255, 255, 255)" stroke-width="23.1"/>
<path transform="translate(938.11,319.00) scale(0.01416,-0.01416)" d="M763 0L583 0L583 1147Q518 1085 412 1023Q306 961 221 930L221 1104Q366 1172 475 1269Q584 1366 629 1466L763 1466Z" fill="rgb(0, 0, 0)" stroke="rgb(0, 0, 0)" stroke-width="24.7"/>
<path transform="translate(1313.0,475.0) rotate(-45) translate(-42.64,0.00) scale(0.01440,-0.01440)" d="M763 0L583 0L583 1147Q518 1085 412 1023Q306 961 221 930L221 1104Q366 1172 475 1269Q584 1366 629 1466L763 1466Z" fill="rgb(0, 0, 0)" stroke="rgb(0, 0, 0)" stroke-width="24.3"/>
<path transform="translate(1434.5,475.0) rotate(-45) translate(-114.80,0.00) scale(0.01440,-0.01440)" d="M763 0L583 0L583 1147Q518 1085 412 1023Q306 961 221 930L221 1104Q366 1172 475 1269Q584 1366 629 1466L763 1466Z" fill="rgb(0, 0, 0)" stroke="rgb(0, 0, 0)" stroke-width="24.3"/>
<path transform="translate(193.26,1106.00) scale(0.01514,-0.01514)" d="M763 0L583 0L583 1147Q518 1085 412 1023Q306 961 221 930L221 1104Q366 1172 475 1269Q584 1366 629 1466L763 1466Z" fill="rgb(255, 255, 255)" stroke="rgb(255, 255, 255)" stroke-width="23.1"/>
<path transform="translate(317.76,1106.00) scale(0.01514,-0.01514)" d="M763 0L583 0L583 1147Q518 1085 412 1023Q306 961 221 930L221 1104Q366 1172 475 1269Q584 1366 629 1466L763 1466Z" fill="rgb(255, 255, 255)" stroke="rgb(255, 255, 255)" stroke-width="23.1"/>
<path transform="translate(442.96,1106.00) scale(0.01514,-0.01514)" d="M763 0L583 0L583 1147Q518 1085 412 1023Q306 961 221 930L221 1104Q366 1172 475 1269Q584 1366 629 1466L763 1466Z" fill="rgb(255, 255, 255)" stroke="rgb(255, 255, 255)" stroke-width="23.1"/>
<path transform="translate(567.76,1106.00) scale(0.01514,-0.01514)" d="M763 0L583 0L583 1147Q518 1085 412 1023Q306 961 221 930L221 1104Q366 1172 475 1269Q584 1366 629 1466L763 1466Z" fill="rgb(255, 255, 255)" stroke="rgb(255, 255, 255)" stroke-width="23.1"/>
<path transform="translate(99.23,966.70) scale(0.01416,-0.01416)" d="M763 0L583 0L583 1147Q518 1085 412 1023Q306 961 221 930L221 1104Q366 1172 475 1269Q584 1366 629 1466L763 1466Z" fill="rgb(0, 0, 0)" stroke="rgb(0, 0, 0)" stroke-width="24.7"/>
<path transform="translate(99.23,888.30) scale(0.01416,-0.01416)" d="M763 0L583 0L583 1147Q518 1085 412 1023Q306 961 221 930L221 1104Q366 1172 475 1269Q584 1366 629 1466L763 1466Z" fill="rgb(0, 0, 0)" stroke="rgb(0, 0, 0)" stroke-width="24.7"/>
<path transform="translate(466.2,1148.5) rotate(-45) translate(-42.64,0.00) scale(0.01440,-0.01440)" d="M763 0L583 0L583 1147Q518 1085 412 1023Q306 961 221 930L221 1104Q366 1172 475 1269Q584 1366 629 1466L763 1466Z" fill="rgb(0, 0, 0)" stroke="rgb(0, 0, 0)" stroke-width="24.3"/>
<path transform="translate(591.0,1148.5) rotate(-45) translate(-114.80,0.00) scale(0.01440,-0.01440)" d="M763 0L583 0L583 1147Q518 1085 412 1023Q306 961 221 930L221 1104Q366 1172 475 1269Q584 1366 629 1466L763 1466Z" fill="rgb(0, 0, 0)" stroke="rgb(0, 0, 0)" stroke-width="24.3"/>
</svg></body></html>
